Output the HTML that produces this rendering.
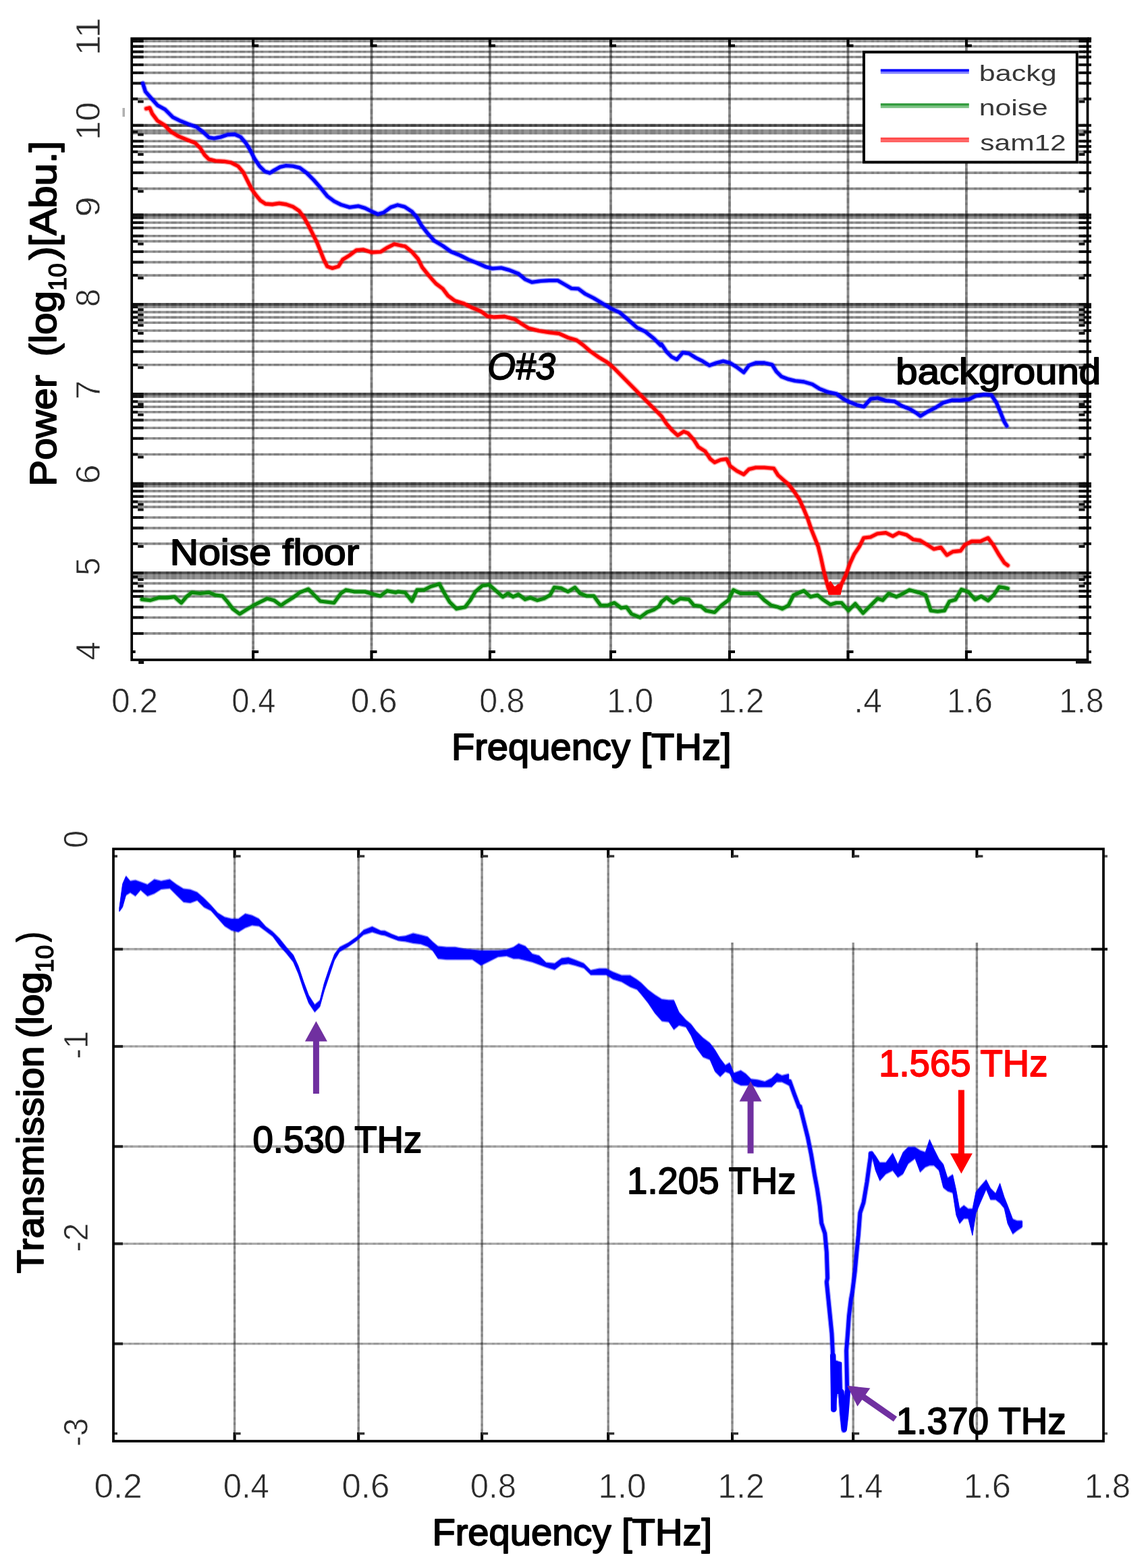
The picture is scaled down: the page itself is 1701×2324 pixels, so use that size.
<!DOCTYPE html>
<html lang="en"><head><meta charset="utf-8"><title>THz power spectrum and transmission</title>
<style>html,body{margin:0;padding:0;background:#fff}body{width:1701px;height:2324px;overflow:hidden}svg{display:block}text{font-family:"Liberation Sans",Arial,Helvetica,sans-serif}</style>
</head><body>
<svg width="1701" height="2324" viewBox="0 0 1701 2324">
<defs><filter id="soft" x="0" y="0" width="1701" height="2324" filterUnits="userSpaceOnUse" color-interpolation-filters="sRGB"><feGaussianBlur stdDeviation="0.55"/></filter></defs>
<rect width="1701" height="2324" fill="#fff"/>
<g filter="url(#soft)">
<rect width="1701" height="2324" fill="#fff"/>
<g id="top-chart">
<g id="top-grid">
<line x1="195.2" y1="61" x2="1611.5" y2="61" stroke="#000" stroke-opacity="0.42" stroke-width="3.6"/>
<line x1="195.2" y1="61" x2="1611.5" y2="61" stroke="#000" stroke-opacity="0.13" stroke-width="3.6" stroke-dasharray="3.9 3.9 7.8 3.9 3.9 7.8 3.9 3.9 3.9 7.8" stroke-dashoffset="0"/>
<line x1="195.2" y1="68.8" x2="1611.5" y2="68.8" stroke="#000" stroke-opacity="0.42" stroke-width="3.6"/>
<line x1="195.2" y1="68.8" x2="1611.5" y2="68.8" stroke="#000" stroke-opacity="0.13" stroke-width="3.6" stroke-dasharray="3.9 3.9 7.8 3.9 3.9 7.8 3.9 3.9 3.9 7.8" stroke-dashoffset="0"/>
<line x1="195.2" y1="76.7" x2="1611.5" y2="76.7" stroke="#000" stroke-opacity="0.42" stroke-width="3.6"/>
<line x1="195.2" y1="76.7" x2="1611.5" y2="76.7" stroke="#000" stroke-opacity="0.13" stroke-width="3.6" stroke-dasharray="3.9 3.9 7.8 3.9 3.9 7.8 3.9 3.9 3.9 7.8" stroke-dashoffset="0"/>
<line x1="195.2" y1="84.5" x2="1611.5" y2="84.5" stroke="#000" stroke-opacity="0.42" stroke-width="3.6"/>
<line x1="195.2" y1="84.5" x2="1611.5" y2="84.5" stroke="#000" stroke-opacity="0.13" stroke-width="3.6" stroke-dasharray="3.9 3.9 7.8 3.9 3.9 7.8 3.9 3.9 3.9 7.8" stroke-dashoffset="0"/>
<line x1="195.2" y1="96.1" x2="1611.5" y2="96.1" stroke="#000" stroke-opacity="0.42" stroke-width="3.6"/>
<line x1="195.2" y1="96.1" x2="1611.5" y2="96.1" stroke="#000" stroke-opacity="0.13" stroke-width="3.6" stroke-dasharray="3.9 3.9 7.8 3.9 3.9 7.8 3.9 3.9 3.9 7.8" stroke-dashoffset="0"/>
<line x1="195.2" y1="107.9" x2="1611.5" y2="107.9" stroke="#000" stroke-opacity="0.42" stroke-width="3.6"/>
<line x1="195.2" y1="107.9" x2="1611.5" y2="107.9" stroke="#000" stroke-opacity="0.13" stroke-width="3.6" stroke-dasharray="3.9 3.9 7.8 3.9 3.9 7.8 3.9 3.9 3.9 7.8" stroke-dashoffset="0"/>
<line x1="195.2" y1="123.4" x2="1611.5" y2="123.4" stroke="#000" stroke-opacity="0.42" stroke-width="3.6"/>
<line x1="195.2" y1="123.4" x2="1611.5" y2="123.4" stroke="#000" stroke-opacity="0.13" stroke-width="3.6" stroke-dasharray="3.9 3.9 7.8 3.9 3.9 7.8 3.9 3.9 3.9 7.8" stroke-dashoffset="0"/>
<line x1="195.2" y1="146.6" x2="1611.5" y2="146.6" stroke="#000" stroke-opacity="0.42" stroke-width="3.6"/>
<line x1="195.2" y1="146.6" x2="1611.5" y2="146.6" stroke="#000" stroke-opacity="0.13" stroke-width="3.6" stroke-dasharray="3.9 3.9 7.8 3.9 3.9 7.8 3.9 3.9 3.9 7.8" stroke-dashoffset="0"/>
<line x1="195.2" y1="185.8" x2="1611.5" y2="185.8" stroke="#000" stroke-opacity="0.66" stroke-width="4.2"/>
<line x1="195.2" y1="185.8" x2="1611.5" y2="185.8" stroke="#000" stroke-opacity="0.24" stroke-width="4.2" stroke-dasharray="3.9 3.9 7.8 3.9 3.9 7.8 3.9 3.9 3.9 7.8" stroke-dashoffset="0"/>
<line x1="195.2" y1="195.5" x2="1611.5" y2="195.5" stroke="#000" stroke-opacity="0.42" stroke-width="7.6"/>
<line x1="195.2" y1="195.5" x2="1611.5" y2="195.5" stroke="#000" stroke-opacity="0.13" stroke-width="7.6" stroke-dasharray="3.9 3.9 7.8 3.9 3.9 7.8 3.9 3.9 3.9 7.8" stroke-dashoffset="0"/>
<line x1="195.2" y1="209.3" x2="1611.5" y2="209.3" stroke="#000" stroke-opacity="0.42" stroke-width="3.6"/>
<line x1="195.2" y1="209.3" x2="1611.5" y2="209.3" stroke="#000" stroke-opacity="0.13" stroke-width="3.6" stroke-dasharray="3.9 3.9 7.8 3.9 3.9 7.8 3.9 3.9 3.9 7.8" stroke-dashoffset="0"/>
<line x1="195.2" y1="217.1" x2="1611.5" y2="217.1" stroke="#000" stroke-opacity="0.42" stroke-width="3.6"/>
<line x1="195.2" y1="217.1" x2="1611.5" y2="217.1" stroke="#000" stroke-opacity="0.13" stroke-width="3.6" stroke-dasharray="3.9 3.9 7.8 3.9 3.9 7.8 3.9 3.9 3.9 7.8" stroke-dashoffset="0"/>
<line x1="195.2" y1="224.9" x2="1611.5" y2="224.9" stroke="#000" stroke-opacity="0.42" stroke-width="3.6"/>
<line x1="195.2" y1="224.9" x2="1611.5" y2="224.9" stroke="#000" stroke-opacity="0.13" stroke-width="3.6" stroke-dasharray="3.9 3.9 7.8 3.9 3.9 7.8 3.9 3.9 3.9 7.8" stroke-dashoffset="0"/>
<line x1="195.2" y1="240.5" x2="1611.5" y2="240.5" stroke="#000" stroke-opacity="0.42" stroke-width="3.6"/>
<line x1="195.2" y1="240.5" x2="1611.5" y2="240.5" stroke="#000" stroke-opacity="0.13" stroke-width="3.6" stroke-dasharray="3.9 3.9 7.8 3.9 3.9 7.8 3.9 3.9 3.9 7.8" stroke-dashoffset="0"/>
<line x1="195.2" y1="256.1" x2="1611.5" y2="256.1" stroke="#000" stroke-opacity="0.42" stroke-width="3.6"/>
<line x1="195.2" y1="256.1" x2="1611.5" y2="256.1" stroke="#000" stroke-opacity="0.13" stroke-width="3.6" stroke-dasharray="3.9 3.9 7.8 3.9 3.9 7.8 3.9 3.9 3.9 7.8" stroke-dashoffset="0"/>
<line x1="195.2" y1="279.6" x2="1611.5" y2="279.6" stroke="#000" stroke-opacity="0.42" stroke-width="3.6"/>
<line x1="195.2" y1="279.6" x2="1611.5" y2="279.6" stroke="#000" stroke-opacity="0.13" stroke-width="3.6" stroke-dasharray="3.9 3.9 7.8 3.9 3.9 7.8 3.9 3.9 3.9 7.8" stroke-dashoffset="0"/>
<line x1="195.2" y1="318.6" x2="1611.5" y2="318.6" stroke="#000" stroke-opacity="0.66" stroke-width="4.2"/>
<line x1="195.2" y1="318.6" x2="1611.5" y2="318.6" stroke="#000" stroke-opacity="0.24" stroke-width="4.2" stroke-dasharray="3.9 3.9 7.8 3.9 3.9 7.8 3.9 3.9 3.9 7.8" stroke-dashoffset="0"/>
<line x1="195.2" y1="322.6" x2="1611.5" y2="322.6" stroke="#000" stroke-opacity="0.42" stroke-width="3.6"/>
<line x1="195.2" y1="322.6" x2="1611.5" y2="322.6" stroke="#000" stroke-opacity="0.13" stroke-width="3.6" stroke-dasharray="3.9 3.9 7.8 3.9 3.9 7.8 3.9 3.9 3.9 7.8" stroke-dashoffset="0"/>
<line x1="195.2" y1="330" x2="1611.5" y2="330" stroke="#000" stroke-opacity="0.42" stroke-width="3.6"/>
<line x1="195.2" y1="330" x2="1611.5" y2="330" stroke="#000" stroke-opacity="0.13" stroke-width="3.6" stroke-dasharray="3.9 3.9 7.8 3.9 3.9 7.8 3.9 3.9 3.9 7.8" stroke-dashoffset="0"/>
<line x1="195.2" y1="337.7" x2="1611.5" y2="337.7" stroke="#000" stroke-opacity="0.42" stroke-width="3.6"/>
<line x1="195.2" y1="337.7" x2="1611.5" y2="337.7" stroke="#000" stroke-opacity="0.13" stroke-width="3.6" stroke-dasharray="3.9 3.9 7.8 3.9 3.9 7.8 3.9 3.9 3.9 7.8" stroke-dashoffset="0"/>
<line x1="195.2" y1="349.7" x2="1611.5" y2="349.7" stroke="#000" stroke-opacity="0.42" stroke-width="3.6"/>
<line x1="195.2" y1="349.7" x2="1611.5" y2="349.7" stroke="#000" stroke-opacity="0.13" stroke-width="3.6" stroke-dasharray="3.9 3.9 7.8 3.9 3.9 7.8 3.9 3.9 3.9 7.8" stroke-dashoffset="0"/>
<line x1="195.2" y1="357.6" x2="1611.5" y2="357.6" stroke="#000" stroke-opacity="0.42" stroke-width="3.6"/>
<line x1="195.2" y1="357.6" x2="1611.5" y2="357.6" stroke="#000" stroke-opacity="0.13" stroke-width="3.6" stroke-dasharray="3.9 3.9 7.8 3.9 3.9 7.8 3.9 3.9 3.9 7.8" stroke-dashoffset="0"/>
<line x1="195.2" y1="373" x2="1611.5" y2="373" stroke="#000" stroke-opacity="0.42" stroke-width="3.6"/>
<line x1="195.2" y1="373" x2="1611.5" y2="373" stroke="#000" stroke-opacity="0.13" stroke-width="3.6" stroke-dasharray="3.9 3.9 7.8 3.9 3.9 7.8 3.9 3.9 3.9 7.8" stroke-dashoffset="0"/>
<line x1="195.2" y1="388.6" x2="1611.5" y2="388.6" stroke="#000" stroke-opacity="0.42" stroke-width="3.6"/>
<line x1="195.2" y1="388.6" x2="1611.5" y2="388.6" stroke="#000" stroke-opacity="0.13" stroke-width="3.6" stroke-dasharray="3.9 3.9 7.8 3.9 3.9 7.8 3.9 3.9 3.9 7.8" stroke-dashoffset="0"/>
<line x1="195.2" y1="408.1" x2="1611.5" y2="408.1" stroke="#000" stroke-opacity="0.42" stroke-width="3.6"/>
<line x1="195.2" y1="408.1" x2="1611.5" y2="408.1" stroke="#000" stroke-opacity="0.13" stroke-width="3.6" stroke-dasharray="3.9 3.9 7.8 3.9 3.9 7.8 3.9 3.9 3.9 7.8" stroke-dashoffset="0"/>
<line x1="195.2" y1="451.2" x2="1611.5" y2="451.2" stroke="#000" stroke-opacity="0.66" stroke-width="4.2"/>
<line x1="195.2" y1="451.2" x2="1611.5" y2="451.2" stroke="#000" stroke-opacity="0.24" stroke-width="4.2" stroke-dasharray="3.9 3.9 7.8 3.9 3.9 7.8 3.9 3.9 3.9 7.8" stroke-dashoffset="0"/>
<line x1="195.2" y1="455" x2="1611.5" y2="455" stroke="#000" stroke-opacity="0.42" stroke-width="3.6"/>
<line x1="195.2" y1="455" x2="1611.5" y2="455" stroke="#000" stroke-opacity="0.13" stroke-width="3.6" stroke-dasharray="3.9 3.9 7.8 3.9 3.9 7.8 3.9 3.9 3.9 7.8" stroke-dashoffset="0"/>
<line x1="195.2" y1="462.6" x2="1611.5" y2="462.6" stroke="#000" stroke-opacity="0.42" stroke-width="3.6"/>
<line x1="195.2" y1="462.6" x2="1611.5" y2="462.6" stroke="#000" stroke-opacity="0.13" stroke-width="3.6" stroke-dasharray="3.9 3.9 7.8 3.9 3.9 7.8 3.9 3.9 3.9 7.8" stroke-dashoffset="0"/>
<line x1="195.2" y1="470.4" x2="1611.5" y2="470.4" stroke="#000" stroke-opacity="0.42" stroke-width="3.6"/>
<line x1="195.2" y1="470.4" x2="1611.5" y2="470.4" stroke="#000" stroke-opacity="0.13" stroke-width="3.6" stroke-dasharray="3.9 3.9 7.8 3.9 3.9 7.8 3.9 3.9 3.9 7.8" stroke-dashoffset="0"/>
<line x1="195.2" y1="478.2" x2="1611.5" y2="478.2" stroke="#000" stroke-opacity="0.42" stroke-width="3.6"/>
<line x1="195.2" y1="478.2" x2="1611.5" y2="478.2" stroke="#000" stroke-opacity="0.13" stroke-width="3.6" stroke-dasharray="3.9 3.9 7.8 3.9 3.9 7.8 3.9 3.9 3.9 7.8" stroke-dashoffset="0"/>
<line x1="195.2" y1="490" x2="1611.5" y2="490" stroke="#000" stroke-opacity="0.42" stroke-width="3.6"/>
<line x1="195.2" y1="490" x2="1611.5" y2="490" stroke="#000" stroke-opacity="0.13" stroke-width="3.6" stroke-dasharray="3.9 3.9 7.8 3.9 3.9 7.8 3.9 3.9 3.9 7.8" stroke-dashoffset="0"/>
<line x1="195.2" y1="505.6" x2="1611.5" y2="505.6" stroke="#000" stroke-opacity="0.42" stroke-width="3.6"/>
<line x1="195.2" y1="505.6" x2="1611.5" y2="505.6" stroke="#000" stroke-opacity="0.13" stroke-width="3.6" stroke-dasharray="3.9 3.9 7.8 3.9 3.9 7.8 3.9 3.9 3.9 7.8" stroke-dashoffset="0"/>
<line x1="195.2" y1="521.2" x2="1611.5" y2="521.2" stroke="#000" stroke-opacity="0.42" stroke-width="3.6"/>
<line x1="195.2" y1="521.2" x2="1611.5" y2="521.2" stroke="#000" stroke-opacity="0.13" stroke-width="3.6" stroke-dasharray="3.9 3.9 7.8 3.9 3.9 7.8 3.9 3.9 3.9 7.8" stroke-dashoffset="0"/>
<line x1="195.2" y1="540.8" x2="1611.5" y2="540.8" stroke="#000" stroke-opacity="0.42" stroke-width="3.6"/>
<line x1="195.2" y1="540.8" x2="1611.5" y2="540.8" stroke="#000" stroke-opacity="0.13" stroke-width="3.6" stroke-dasharray="3.9 3.9 7.8 3.9 3.9 7.8 3.9 3.9 3.9 7.8" stroke-dashoffset="0"/>
<line x1="195.2" y1="584" x2="1611.5" y2="584" stroke="#000" stroke-opacity="0.66" stroke-width="4.2"/>
<line x1="195.2" y1="584" x2="1611.5" y2="584" stroke="#000" stroke-opacity="0.24" stroke-width="4.2" stroke-dasharray="3.9 3.9 7.8 3.9 3.9 7.8 3.9 3.9 3.9 7.8" stroke-dashoffset="0"/>
<line x1="195.2" y1="587.8" x2="1611.5" y2="587.8" stroke="#000" stroke-opacity="0.42" stroke-width="3.6"/>
<line x1="195.2" y1="587.8" x2="1611.5" y2="587.8" stroke="#000" stroke-opacity="0.13" stroke-width="3.6" stroke-dasharray="3.9 3.9 7.8 3.9 3.9 7.8 3.9 3.9 3.9 7.8" stroke-dashoffset="0"/>
<line x1="195.2" y1="595.2" x2="1611.5" y2="595.2" stroke="#000" stroke-opacity="0.42" stroke-width="3.6"/>
<line x1="195.2" y1="595.2" x2="1611.5" y2="595.2" stroke="#000" stroke-opacity="0.13" stroke-width="3.6" stroke-dasharray="3.9 3.9 7.8 3.9 3.9 7.8 3.9 3.9 3.9 7.8" stroke-dashoffset="0"/>
<line x1="195.2" y1="603" x2="1611.5" y2="603" stroke="#000" stroke-opacity="0.42" stroke-width="3.6"/>
<line x1="195.2" y1="603" x2="1611.5" y2="603" stroke="#000" stroke-opacity="0.13" stroke-width="3.6" stroke-dasharray="3.9 3.9 7.8 3.9 3.9 7.8 3.9 3.9 3.9 7.8" stroke-dashoffset="0"/>
<line x1="195.2" y1="610.8" x2="1611.5" y2="610.8" stroke="#000" stroke-opacity="0.42" stroke-width="3.6"/>
<line x1="195.2" y1="610.8" x2="1611.5" y2="610.8" stroke="#000" stroke-opacity="0.13" stroke-width="3.6" stroke-dasharray="3.9 3.9 7.8 3.9 3.9 7.8 3.9 3.9 3.9 7.8" stroke-dashoffset="0"/>
<line x1="195.2" y1="622.6" x2="1611.5" y2="622.6" stroke="#000" stroke-opacity="0.42" stroke-width="3.6"/>
<line x1="195.2" y1="622.6" x2="1611.5" y2="622.6" stroke="#000" stroke-opacity="0.13" stroke-width="3.6" stroke-dasharray="3.9 3.9 7.8 3.9 3.9 7.8 3.9 3.9 3.9 7.8" stroke-dashoffset="0"/>
<line x1="195.2" y1="634.3" x2="1611.5" y2="634.3" stroke="#000" stroke-opacity="0.42" stroke-width="3.6"/>
<line x1="195.2" y1="634.3" x2="1611.5" y2="634.3" stroke="#000" stroke-opacity="0.13" stroke-width="3.6" stroke-dasharray="3.9 3.9 7.8 3.9 3.9 7.8 3.9 3.9 3.9 7.8" stroke-dashoffset="0"/>
<line x1="195.2" y1="649.8" x2="1611.5" y2="649.8" stroke="#000" stroke-opacity="0.42" stroke-width="3.6"/>
<line x1="195.2" y1="649.8" x2="1611.5" y2="649.8" stroke="#000" stroke-opacity="0.13" stroke-width="3.6" stroke-dasharray="3.9 3.9 7.8 3.9 3.9 7.8 3.9 3.9 3.9 7.8" stroke-dashoffset="0"/>
<line x1="195.2" y1="673.5" x2="1611.5" y2="673.5" stroke="#000" stroke-opacity="0.42" stroke-width="3.6"/>
<line x1="195.2" y1="673.5" x2="1611.5" y2="673.5" stroke="#000" stroke-opacity="0.13" stroke-width="3.6" stroke-dasharray="3.9 3.9 7.8 3.9 3.9 7.8 3.9 3.9 3.9 7.8" stroke-dashoffset="0"/>
<line x1="195.2" y1="716.8" x2="1611.5" y2="716.8" stroke="#000" stroke-opacity="0.66" stroke-width="4.2"/>
<line x1="195.2" y1="716.8" x2="1611.5" y2="716.8" stroke="#000" stroke-opacity="0.24" stroke-width="4.2" stroke-dasharray="3.9 3.9 7.8 3.9 3.9 7.8 3.9 3.9 3.9 7.8" stroke-dashoffset="0"/>
<line x1="195.2" y1="720.6" x2="1611.5" y2="720.6" stroke="#000" stroke-opacity="0.42" stroke-width="3.6"/>
<line x1="195.2" y1="720.6" x2="1611.5" y2="720.6" stroke="#000" stroke-opacity="0.13" stroke-width="3.6" stroke-dasharray="3.9 3.9 7.8 3.9 3.9 7.8 3.9 3.9 3.9 7.8" stroke-dashoffset="0"/>
<line x1="195.2" y1="727.9" x2="1611.5" y2="727.9" stroke="#000" stroke-opacity="0.42" stroke-width="3.6"/>
<line x1="195.2" y1="727.9" x2="1611.5" y2="727.9" stroke="#000" stroke-opacity="0.13" stroke-width="3.6" stroke-dasharray="3.9 3.9 7.8 3.9 3.9 7.8 3.9 3.9 3.9 7.8" stroke-dashoffset="0"/>
<line x1="195.2" y1="735.8" x2="1611.5" y2="735.8" stroke="#000" stroke-opacity="0.42" stroke-width="3.6"/>
<line x1="195.2" y1="735.8" x2="1611.5" y2="735.8" stroke="#000" stroke-opacity="0.13" stroke-width="3.6" stroke-dasharray="3.9 3.9 7.8 3.9 3.9 7.8 3.9 3.9 3.9 7.8" stroke-dashoffset="0"/>
<line x1="195.2" y1="743.6" x2="1611.5" y2="743.6" stroke="#000" stroke-opacity="0.42" stroke-width="3.6"/>
<line x1="195.2" y1="743.6" x2="1611.5" y2="743.6" stroke="#000" stroke-opacity="0.13" stroke-width="3.6" stroke-dasharray="3.9 3.9 7.8 3.9 3.9 7.8 3.9 3.9 3.9 7.8" stroke-dashoffset="0"/>
<line x1="195.2" y1="751.4" x2="1611.5" y2="751.4" stroke="#000" stroke-opacity="0.42" stroke-width="3.6"/>
<line x1="195.2" y1="751.4" x2="1611.5" y2="751.4" stroke="#000" stroke-opacity="0.13" stroke-width="3.6" stroke-dasharray="3.9 3.9 7.8 3.9 3.9 7.8 3.9 3.9 3.9 7.8" stroke-dashoffset="0"/>
<line x1="195.2" y1="767" x2="1611.5" y2="767" stroke="#000" stroke-opacity="0.42" stroke-width="3.6"/>
<line x1="195.2" y1="767" x2="1611.5" y2="767" stroke="#000" stroke-opacity="0.13" stroke-width="3.6" stroke-dasharray="3.9 3.9 7.8 3.9 3.9 7.8 3.9 3.9 3.9 7.8" stroke-dashoffset="0"/>
<line x1="195.2" y1="782.6" x2="1611.5" y2="782.6" stroke="#000" stroke-opacity="0.42" stroke-width="3.6"/>
<line x1="195.2" y1="782.6" x2="1611.5" y2="782.6" stroke="#000" stroke-opacity="0.13" stroke-width="3.6" stroke-dasharray="3.9 3.9 7.8 3.9 3.9 7.8 3.9 3.9 3.9 7.8" stroke-dashoffset="0"/>
<line x1="195.2" y1="805.9" x2="1611.5" y2="805.9" stroke="#000" stroke-opacity="0.42" stroke-width="3.6"/>
<line x1="195.2" y1="805.9" x2="1611.5" y2="805.9" stroke="#000" stroke-opacity="0.13" stroke-width="3.6" stroke-dasharray="3.9 3.9 7.8 3.9 3.9 7.8 3.9 3.9 3.9 7.8" stroke-dashoffset="0"/>
<line x1="195.2" y1="849.2" x2="1611.5" y2="849.2" stroke="#000" stroke-opacity="0.66" stroke-width="4.2"/>
<line x1="195.2" y1="849.2" x2="1611.5" y2="849.2" stroke="#000" stroke-opacity="0.24" stroke-width="4.2" stroke-dasharray="3.9 3.9 7.8 3.9 3.9 7.8 3.9 3.9 3.9 7.8" stroke-dashoffset="0"/>
<line x1="195.2" y1="855" x2="1611.5" y2="855" stroke="#000" stroke-opacity="0.42" stroke-width="7.6"/>
<line x1="195.2" y1="855" x2="1611.5" y2="855" stroke="#000" stroke-opacity="0.13" stroke-width="7.6" stroke-dasharray="3.9 3.9 7.8 3.9 3.9 7.8 3.9 3.9 3.9 7.8" stroke-dashoffset="0"/>
<line x1="195.2" y1="864.6" x2="1611.5" y2="864.6" stroke="#000" stroke-opacity="0.42" stroke-width="3.6"/>
<line x1="195.2" y1="864.6" x2="1611.5" y2="864.6" stroke="#000" stroke-opacity="0.13" stroke-width="3.6" stroke-dasharray="3.9 3.9 7.8 3.9 3.9 7.8 3.9 3.9 3.9 7.8" stroke-dashoffset="0"/>
<line x1="195.2" y1="876.2" x2="1611.5" y2="876.2" stroke="#000" stroke-opacity="0.42" stroke-width="3.6"/>
<line x1="195.2" y1="876.2" x2="1611.5" y2="876.2" stroke="#000" stroke-opacity="0.13" stroke-width="3.6" stroke-dasharray="3.9 3.9 7.8 3.9 3.9 7.8 3.9 3.9 3.9 7.8" stroke-dashoffset="0"/>
<line x1="195.2" y1="884" x2="1611.5" y2="884" stroke="#000" stroke-opacity="0.42" stroke-width="3.6"/>
<line x1="195.2" y1="884" x2="1611.5" y2="884" stroke="#000" stroke-opacity="0.13" stroke-width="3.6" stroke-dasharray="3.9 3.9 7.8 3.9 3.9 7.8 3.9 3.9 3.9 7.8" stroke-dashoffset="0"/>
<line x1="195.2" y1="899.7" x2="1611.5" y2="899.7" stroke="#000" stroke-opacity="0.42" stroke-width="3.6"/>
<line x1="195.2" y1="899.7" x2="1611.5" y2="899.7" stroke="#000" stroke-opacity="0.13" stroke-width="3.6" stroke-dasharray="3.9 3.9 7.8 3.9 3.9 7.8 3.9 3.9 3.9 7.8" stroke-dashoffset="0"/>
<line x1="195.2" y1="915.3" x2="1611.5" y2="915.3" stroke="#000" stroke-opacity="0.42" stroke-width="3.6"/>
<line x1="195.2" y1="915.3" x2="1611.5" y2="915.3" stroke="#000" stroke-opacity="0.13" stroke-width="3.6" stroke-dasharray="3.9 3.9 7.8 3.9 3.9 7.8 3.9 3.9 3.9 7.8" stroke-dashoffset="0"/>
<line x1="195.2" y1="938.9" x2="1611.5" y2="938.9" stroke="#000" stroke-opacity="0.42" stroke-width="3.6"/>
<line x1="195.2" y1="938.9" x2="1611.5" y2="938.9" stroke="#000" stroke-opacity="0.13" stroke-width="3.6" stroke-dasharray="3.9 3.9 7.8 3.9 3.9 7.8 3.9 3.9 3.9 7.8" stroke-dashoffset="0"/>
<line x1="375.1" y1="57.2" x2="375.1" y2="978" stroke="#000" stroke-opacity="0.46" stroke-width="3.8"/>
<line x1="375.1" y1="57.2" x2="375.1" y2="978" stroke="#000" stroke-opacity="0.13" stroke-width="3.8" stroke-dasharray="3.9 3.9 7.8 3.9 3.9 7.8 3.9 3.9 3.9 7.8" stroke-dashoffset="0"/>
<line x1="550.5" y1="57.2" x2="550.5" y2="978" stroke="#000" stroke-opacity="0.46" stroke-width="3.8"/>
<line x1="550.5" y1="57.2" x2="550.5" y2="978" stroke="#000" stroke-opacity="0.13" stroke-width="3.8" stroke-dasharray="3.9 3.9 7.8 3.9 3.9 7.8 3.9 3.9 3.9 7.8" stroke-dashoffset="5"/>
<line x1="725.9" y1="57.2" x2="725.9" y2="978" stroke="#000" stroke-opacity="0.46" stroke-width="3.8"/>
<line x1="725.9" y1="57.2" x2="725.9" y2="978" stroke="#000" stroke-opacity="0.13" stroke-width="3.8" stroke-dasharray="3.9 3.9 7.8 3.9 3.9 7.8 3.9 3.9 3.9 7.8" stroke-dashoffset="10"/>
<line x1="905" y1="57.2" x2="905" y2="978" stroke="#000" stroke-opacity="0.46" stroke-width="3.8"/>
<line x1="905" y1="57.2" x2="905" y2="978" stroke="#000" stroke-opacity="0.13" stroke-width="3.8" stroke-dasharray="3.9 3.9 7.8 3.9 3.9 7.8 3.9 3.9 3.9 7.8" stroke-dashoffset="15"/>
<line x1="1081" y1="57.2" x2="1081" y2="978" stroke="#000" stroke-opacity="0.46" stroke-width="3.8"/>
<line x1="1081" y1="57.2" x2="1081" y2="978" stroke="#000" stroke-opacity="0.13" stroke-width="3.8" stroke-dasharray="3.9 3.9 7.8 3.9 3.9 7.8 3.9 3.9 3.9 7.8" stroke-dashoffset="20"/>
<line x1="1256.5" y1="57.2" x2="1256.5" y2="978" stroke="#000" stroke-opacity="0.46" stroke-width="3.8"/>
<line x1="1256.5" y1="57.2" x2="1256.5" y2="978" stroke="#000" stroke-opacity="0.13" stroke-width="3.8" stroke-dasharray="3.9 3.9 7.8 3.9 3.9 7.8 3.9 3.9 3.9 7.8" stroke-dashoffset="25"/>
<line x1="1431.9" y1="57.2" x2="1431.9" y2="978" stroke="#000" stroke-opacity="0.46" stroke-width="3.8"/>
<line x1="1431.9" y1="57.2" x2="1431.9" y2="978" stroke="#000" stroke-opacity="0.13" stroke-width="3.8" stroke-dasharray="3.9 3.9 7.8 3.9 3.9 7.8 3.9 3.9 3.9 7.8" stroke-dashoffset="30"/>
</g>
<g id="top-ticks" fill="#000">
<rect x="195.2" y="59" width="9" height="4" fill="#111"/>
<rect x="204.2" y="59" width="8.5" height="4" fill="#111"/>
<rect x="1598.5" y="59" width="9" height="4" fill="#111"/>
<rect x="1605.5" y="59" width="11.5" height="4" fill="#111"/>
<rect x="195.2" y="66.8" width="9" height="4" fill="#111"/>
<rect x="204.2" y="66.8" width="8.5" height="4" fill="#111"/>
<rect x="1598.5" y="66.8" width="9" height="4" fill="#111"/>
<rect x="1605.5" y="66.8" width="11.5" height="4" fill="#111"/>
<rect x="195.2" y="74.7" width="9" height="4" fill="#111"/>
<rect x="204.2" y="74.7" width="8.5" height="4" fill="#111"/>
<rect x="1598.5" y="74.7" width="9" height="4" fill="#111"/>
<rect x="1605.5" y="74.7" width="11.5" height="4" fill="#111"/>
<rect x="195.2" y="82.5" width="9" height="4" fill="#111"/>
<rect x="204.2" y="82.5" width="8.5" height="4" fill="#111"/>
<rect x="1598.5" y="82.5" width="9" height="4" fill="#111"/>
<rect x="1605.5" y="82.5" width="11.5" height="4" fill="#111"/>
<rect x="195.2" y="94.1" width="9" height="4" fill="#111"/>
<rect x="204.2" y="94.1" width="8.5" height="4" fill="#111"/>
<rect x="1598.5" y="94.1" width="9" height="4" fill="#111"/>
<rect x="1605.5" y="94.1" width="11.5" height="4" fill="#111"/>
<rect x="195.2" y="105.9" width="9" height="4" fill="#111"/>
<rect x="204.2" y="105.9" width="8.5" height="4" fill="#111"/>
<rect x="1598.5" y="105.9" width="9" height="4" fill="#111"/>
<rect x="1605.5" y="105.9" width="11.5" height="4" fill="#111"/>
<rect x="195.2" y="121.4" width="9" height="4" fill="#111"/>
<rect x="204.2" y="121.4" width="8.5" height="4" fill="#111"/>
<rect x="1598.5" y="121.4" width="9" height="4" fill="#111"/>
<rect x="1605.5" y="121.4" width="11.5" height="4" fill="#111"/>
<rect x="195.2" y="144.6" width="9" height="4" fill="#111"/>
<rect x="204.2" y="148.6" width="8.5" height="4" fill="#111"/>
<rect x="1598.5" y="148.6" width="9" height="4" fill="#111"/>
<rect x="1605.5" y="144.6" width="11.5" height="4" fill="#111"/>
<rect x="195.2" y="183.8" width="9" height="4" fill="#111"/>
<rect x="204.2" y="183.8" width="8.5" height="4" fill="#111"/>
<rect x="1598.5" y="183.8" width="9" height="4" fill="#111"/>
<rect x="1605.5" y="183.8" width="11.5" height="4" fill="#111"/>
<rect x="195.2" y="193.5" width="9" height="4" fill="#111"/>
<rect x="204.2" y="197.5" width="8.5" height="4" fill="#111"/>
<rect x="1598.5" y="197.5" width="9" height="4" fill="#111"/>
<rect x="1605.5" y="193.5" width="11.5" height="4" fill="#111"/>
<rect x="195.2" y="207.3" width="9" height="4" fill="#111"/>
<rect x="204.2" y="207.3" width="8.5" height="4" fill="#111"/>
<rect x="1598.5" y="207.3" width="9" height="4" fill="#111"/>
<rect x="1605.5" y="207.3" width="11.5" height="4" fill="#111"/>
<rect x="195.2" y="215.1" width="9" height="4" fill="#111"/>
<rect x="204.2" y="215.1" width="8.5" height="4" fill="#111"/>
<rect x="1598.5" y="215.1" width="9" height="4" fill="#111"/>
<rect x="1605.5" y="215.1" width="11.5" height="4" fill="#111"/>
<rect x="195.2" y="222.9" width="9" height="4" fill="#111"/>
<rect x="204.2" y="226.9" width="8.5" height="4" fill="#111"/>
<rect x="1598.5" y="226.9" width="9" height="4" fill="#111"/>
<rect x="1605.5" y="222.9" width="11.5" height="4" fill="#111"/>
<rect x="195.2" y="238.5" width="9" height="4" fill="#111"/>
<rect x="204.2" y="238.5" width="8.5" height="4" fill="#111"/>
<rect x="1598.5" y="238.5" width="9" height="4" fill="#111"/>
<rect x="1605.5" y="238.5" width="11.5" height="4" fill="#111"/>
<rect x="195.2" y="254.1" width="9" height="4" fill="#111"/>
<rect x="204.2" y="254.1" width="8.5" height="4" fill="#111"/>
<rect x="1598.5" y="254.1" width="9" height="4" fill="#111"/>
<rect x="1605.5" y="254.1" width="11.5" height="4" fill="#111"/>
<rect x="195.2" y="277.6" width="9" height="4" fill="#111"/>
<rect x="204.2" y="281.6" width="8.5" height="4" fill="#111"/>
<rect x="1598.5" y="281.6" width="9" height="4" fill="#111"/>
<rect x="1605.5" y="277.6" width="11.5" height="4" fill="#111"/>
<rect x="195.2" y="316.6" width="9" height="4" fill="#111"/>
<rect x="204.2" y="316.6" width="8.5" height="4" fill="#111"/>
<rect x="1598.5" y="316.6" width="9" height="4" fill="#111"/>
<rect x="1605.5" y="316.6" width="11.5" height="4" fill="#111"/>
<rect x="195.2" y="320.6" width="9" height="4" fill="#111"/>
<rect x="204.2" y="320.6" width="8.5" height="4" fill="#111"/>
<rect x="1598.5" y="320.6" width="9" height="4" fill="#111"/>
<rect x="1605.5" y="320.6" width="11.5" height="4" fill="#111"/>
<rect x="195.2" y="328" width="9" height="4" fill="#111"/>
<rect x="204.2" y="328" width="8.5" height="4" fill="#111"/>
<rect x="1598.5" y="328" width="9" height="4" fill="#111"/>
<rect x="1605.5" y="328" width="11.5" height="4" fill="#111"/>
<rect x="195.2" y="335.7" width="9" height="4" fill="#111"/>
<rect x="204.2" y="335.7" width="8.5" height="4" fill="#111"/>
<rect x="1598.5" y="335.7" width="9" height="4" fill="#111"/>
<rect x="1605.5" y="335.7" width="11.5" height="4" fill="#111"/>
<rect x="195.2" y="347.7" width="9" height="4" fill="#111"/>
<rect x="204.2" y="347.7" width="8.5" height="4" fill="#111"/>
<rect x="1598.5" y="347.7" width="9" height="4" fill="#111"/>
<rect x="1605.5" y="347.7" width="11.5" height="4" fill="#111"/>
<rect x="195.2" y="355.6" width="9" height="4" fill="#111"/>
<rect x="204.2" y="359.6" width="8.5" height="4" fill="#111"/>
<rect x="1598.5" y="359.6" width="9" height="4" fill="#111"/>
<rect x="1605.5" y="355.6" width="11.5" height="4" fill="#111"/>
<rect x="195.2" y="371" width="9" height="4" fill="#111"/>
<rect x="204.2" y="371" width="8.5" height="4" fill="#111"/>
<rect x="1598.5" y="371" width="9" height="4" fill="#111"/>
<rect x="1605.5" y="371" width="11.5" height="4" fill="#111"/>
<rect x="195.2" y="386.6" width="9" height="4" fill="#111"/>
<rect x="204.2" y="386.6" width="8.5" height="4" fill="#111"/>
<rect x="1598.5" y="386.6" width="9" height="4" fill="#111"/>
<rect x="1605.5" y="386.6" width="11.5" height="4" fill="#111"/>
<rect x="195.2" y="406.1" width="9" height="4" fill="#111"/>
<rect x="204.2" y="410.1" width="8.5" height="4" fill="#111"/>
<rect x="1598.5" y="410.1" width="9" height="4" fill="#111"/>
<rect x="1605.5" y="406.1" width="11.5" height="4" fill="#111"/>
<rect x="195.2" y="449.2" width="9" height="4" fill="#111"/>
<rect x="204.2" y="449.2" width="8.5" height="4" fill="#111"/>
<rect x="1598.5" y="449.2" width="9" height="4" fill="#111"/>
<rect x="1605.5" y="449.2" width="11.5" height="4" fill="#111"/>
<rect x="195.2" y="453" width="9" height="4" fill="#111"/>
<rect x="204.2" y="457" width="8.5" height="4" fill="#111"/>
<rect x="1598.5" y="457" width="9" height="4" fill="#111"/>
<rect x="1605.5" y="453" width="11.5" height="4" fill="#111"/>
<rect x="195.2" y="460.6" width="9" height="4" fill="#111"/>
<rect x="204.2" y="464.6" width="8.5" height="4" fill="#111"/>
<rect x="1598.5" y="464.6" width="9" height="4" fill="#111"/>
<rect x="1605.5" y="460.6" width="11.5" height="4" fill="#111"/>
<rect x="195.2" y="468.4" width="9" height="4" fill="#111"/>
<rect x="204.2" y="472.4" width="8.5" height="4" fill="#111"/>
<rect x="1598.5" y="472.4" width="9" height="4" fill="#111"/>
<rect x="1605.5" y="468.4" width="11.5" height="4" fill="#111"/>
<rect x="195.2" y="476.2" width="9" height="4" fill="#111"/>
<rect x="204.2" y="480.2" width="8.5" height="4" fill="#111"/>
<rect x="1598.5" y="480.2" width="9" height="4" fill="#111"/>
<rect x="1605.5" y="476.2" width="11.5" height="4" fill="#111"/>
<rect x="195.2" y="488" width="9" height="4" fill="#111"/>
<rect x="204.2" y="492" width="8.5" height="4" fill="#111"/>
<rect x="1598.5" y="492" width="9" height="4" fill="#111"/>
<rect x="1605.5" y="488" width="11.5" height="4" fill="#111"/>
<rect x="195.2" y="503.6" width="9" height="4" fill="#111"/>
<rect x="204.2" y="503.6" width="8.5" height="4" fill="#111"/>
<rect x="1598.5" y="503.6" width="9" height="4" fill="#111"/>
<rect x="1605.5" y="503.6" width="11.5" height="4" fill="#111"/>
<rect x="195.2" y="519.2" width="9" height="4" fill="#111"/>
<rect x="204.2" y="519.2" width="8.5" height="4" fill="#111"/>
<rect x="1598.5" y="519.2" width="9" height="4" fill="#111"/>
<rect x="1605.5" y="519.2" width="11.5" height="4" fill="#111"/>
<rect x="195.2" y="538.8" width="9" height="4" fill="#111"/>
<rect x="204.2" y="542.8" width="8.5" height="4" fill="#111"/>
<rect x="1598.5" y="542.8" width="9" height="4" fill="#111"/>
<rect x="1605.5" y="538.8" width="11.5" height="4" fill="#111"/>
<rect x="195.2" y="582" width="9" height="4" fill="#111"/>
<rect x="204.2" y="582" width="8.5" height="4" fill="#111"/>
<rect x="1598.5" y="582" width="9" height="4" fill="#111"/>
<rect x="1605.5" y="582" width="11.5" height="4" fill="#111"/>
<rect x="195.2" y="585.8" width="9" height="4" fill="#111"/>
<rect x="204.2" y="585.8" width="8.5" height="4" fill="#111"/>
<rect x="1598.5" y="585.8" width="9" height="4" fill="#111"/>
<rect x="1605.5" y="585.8" width="11.5" height="4" fill="#111"/>
<rect x="195.2" y="593.2" width="9" height="4" fill="#111"/>
<rect x="204.2" y="597.2" width="8.5" height="4" fill="#111"/>
<rect x="1598.5" y="597.2" width="9" height="4" fill="#111"/>
<rect x="1605.5" y="593.2" width="11.5" height="4" fill="#111"/>
<rect x="195.2" y="601" width="9" height="4" fill="#111"/>
<rect x="204.2" y="601" width="8.5" height="4" fill="#111"/>
<rect x="1598.5" y="601" width="9" height="4" fill="#111"/>
<rect x="1605.5" y="601" width="11.5" height="4" fill="#111"/>
<rect x="195.2" y="608.8" width="9" height="4" fill="#111"/>
<rect x="204.2" y="612.8" width="8.5" height="4" fill="#111"/>
<rect x="1598.5" y="612.8" width="9" height="4" fill="#111"/>
<rect x="1605.5" y="608.8" width="11.5" height="4" fill="#111"/>
<rect x="195.2" y="620.6" width="9" height="4" fill="#111"/>
<rect x="204.2" y="620.6" width="8.5" height="4" fill="#111"/>
<rect x="1598.5" y="620.6" width="9" height="4" fill="#111"/>
<rect x="1605.5" y="620.6" width="11.5" height="4" fill="#111"/>
<rect x="195.2" y="632.3" width="9" height="4" fill="#111"/>
<rect x="204.2" y="632.3" width="8.5" height="4" fill="#111"/>
<rect x="1598.5" y="632.3" width="9" height="4" fill="#111"/>
<rect x="1605.5" y="632.3" width="11.5" height="4" fill="#111"/>
<rect x="195.2" y="647.8" width="9" height="4" fill="#111"/>
<rect x="204.2" y="647.8" width="8.5" height="4" fill="#111"/>
<rect x="1598.5" y="647.8" width="9" height="4" fill="#111"/>
<rect x="1605.5" y="647.8" width="11.5" height="4" fill="#111"/>
<rect x="195.2" y="671.5" width="9" height="4" fill="#111"/>
<rect x="204.2" y="675.5" width="8.5" height="4" fill="#111"/>
<rect x="1598.5" y="675.5" width="9" height="4" fill="#111"/>
<rect x="1605.5" y="671.5" width="11.5" height="4" fill="#111"/>
<rect x="195.2" y="714.8" width="9" height="4" fill="#111"/>
<rect x="204.2" y="714.8" width="8.5" height="4" fill="#111"/>
<rect x="1598.5" y="714.8" width="9" height="4" fill="#111"/>
<rect x="1605.5" y="714.8" width="11.5" height="4" fill="#111"/>
<rect x="195.2" y="718.6" width="9" height="4" fill="#111"/>
<rect x="204.2" y="718.6" width="8.5" height="4" fill="#111"/>
<rect x="1598.5" y="718.6" width="9" height="4" fill="#111"/>
<rect x="1605.5" y="718.6" width="11.5" height="4" fill="#111"/>
<rect x="195.2" y="725.9" width="9" height="4" fill="#111"/>
<rect x="204.2" y="725.9" width="8.5" height="4" fill="#111"/>
<rect x="1598.5" y="725.9" width="9" height="4" fill="#111"/>
<rect x="1605.5" y="725.9" width="11.5" height="4" fill="#111"/>
<rect x="195.2" y="733.8" width="9" height="4" fill="#111"/>
<rect x="204.2" y="733.8" width="8.5" height="4" fill="#111"/>
<rect x="1598.5" y="733.8" width="9" height="4" fill="#111"/>
<rect x="1605.5" y="733.8" width="11.5" height="4" fill="#111"/>
<rect x="195.2" y="741.6" width="9" height="4" fill="#111"/>
<rect x="204.2" y="745.6" width="8.5" height="4" fill="#111"/>
<rect x="1598.5" y="745.6" width="9" height="4" fill="#111"/>
<rect x="1605.5" y="741.6" width="11.5" height="4" fill="#111"/>
<rect x="195.2" y="749.4" width="9" height="4" fill="#111"/>
<rect x="204.2" y="753.4" width="8.5" height="4" fill="#111"/>
<rect x="1598.5" y="753.4" width="9" height="4" fill="#111"/>
<rect x="1605.5" y="749.4" width="11.5" height="4" fill="#111"/>
<rect x="195.2" y="765" width="9" height="4" fill="#111"/>
<rect x="204.2" y="765" width="8.5" height="4" fill="#111"/>
<rect x="1598.5" y="765" width="9" height="4" fill="#111"/>
<rect x="1605.5" y="765" width="11.5" height="4" fill="#111"/>
<rect x="195.2" y="780.6" width="9" height="4" fill="#111"/>
<rect x="204.2" y="780.6" width="8.5" height="4" fill="#111"/>
<rect x="1598.5" y="780.6" width="9" height="4" fill="#111"/>
<rect x="1605.5" y="780.6" width="11.5" height="4" fill="#111"/>
<rect x="195.2" y="803.9" width="9" height="4" fill="#111"/>
<rect x="204.2" y="807.9" width="8.5" height="4" fill="#111"/>
<rect x="1598.5" y="807.9" width="9" height="4" fill="#111"/>
<rect x="1605.5" y="803.9" width="11.5" height="4" fill="#111"/>
<rect x="195.2" y="847.2" width="9" height="4" fill="#111"/>
<rect x="204.2" y="847.2" width="8.5" height="4" fill="#111"/>
<rect x="1598.5" y="847.2" width="9" height="4" fill="#111"/>
<rect x="1605.5" y="847.2" width="11.5" height="4" fill="#111"/>
<rect x="195.2" y="853" width="9" height="4" fill="#111"/>
<rect x="204.2" y="857" width="8.5" height="4" fill="#111"/>
<rect x="1598.5" y="857" width="9" height="4" fill="#111"/>
<rect x="1605.5" y="853" width="11.5" height="4" fill="#111"/>
<rect x="195.2" y="862.6" width="9" height="4" fill="#111"/>
<rect x="204.2" y="866.6" width="8.5" height="4" fill="#111"/>
<rect x="1598.5" y="866.6" width="9" height="4" fill="#111"/>
<rect x="1605.5" y="862.6" width="11.5" height="4" fill="#111"/>
<rect x="195.2" y="874.2" width="9" height="4" fill="#111"/>
<rect x="204.2" y="874.2" width="8.5" height="4" fill="#111"/>
<rect x="1598.5" y="874.2" width="9" height="4" fill="#111"/>
<rect x="1605.5" y="874.2" width="11.5" height="4" fill="#111"/>
<rect x="195.2" y="882" width="9" height="4" fill="#111"/>
<rect x="204.2" y="882" width="8.5" height="4" fill="#111"/>
<rect x="1598.5" y="882" width="9" height="4" fill="#111"/>
<rect x="1605.5" y="882" width="11.5" height="4" fill="#111"/>
<rect x="195.2" y="897.7" width="9" height="4" fill="#111"/>
<rect x="204.2" y="897.7" width="8.5" height="4" fill="#111"/>
<rect x="1598.5" y="897.7" width="9" height="4" fill="#111"/>
<rect x="1605.5" y="897.7" width="11.5" height="4" fill="#111"/>
<rect x="195.2" y="913.3" width="9" height="4" fill="#111"/>
<rect x="204.2" y="913.3" width="8.5" height="4" fill="#111"/>
<rect x="1598.5" y="913.3" width="9" height="4" fill="#111"/>
<rect x="1605.5" y="913.3" width="11.5" height="4" fill="#111"/>
<rect x="195.2" y="936.9" width="9" height="4" fill="#111"/>
<rect x="204.2" y="936.9" width="8.5" height="4" fill="#111"/>
<rect x="1598.5" y="936.9" width="9" height="4" fill="#111"/>
<rect x="1605.5" y="936.9" width="11.5" height="4" fill="#111"/>
<rect x="373.1" y="57.2" width="4" height="12" fill="#000"/>
<rect x="375.1" y="65.7" width="8" height="4" fill="#000"/>
<rect x="373.1" y="964" width="4" height="14" fill="#000"/>
<rect x="375.1" y="964" width="8" height="4" fill="#000"/>
<rect x="548.5" y="57.2" width="4" height="12" fill="#000"/>
<rect x="550.5" y="65.7" width="8" height="4" fill="#000"/>
<rect x="548.5" y="964" width="4" height="14" fill="#000"/>
<rect x="550.5" y="964" width="8" height="4" fill="#000"/>
<rect x="723.9" y="57.2" width="4" height="12" fill="#000"/>
<rect x="725.9" y="65.7" width="8" height="4" fill="#000"/>
<rect x="723.9" y="964" width="4" height="14" fill="#000"/>
<rect x="725.9" y="964" width="8" height="4" fill="#000"/>
<rect x="903" y="57.2" width="4" height="12" fill="#000"/>
<rect x="905" y="65.7" width="8" height="4" fill="#000"/>
<rect x="903" y="964" width="4" height="14" fill="#000"/>
<rect x="905" y="964" width="8" height="4" fill="#000"/>
<rect x="1079" y="57.2" width="4" height="12" fill="#000"/>
<rect x="1081" y="65.7" width="8" height="4" fill="#000"/>
<rect x="1079" y="964" width="4" height="14" fill="#000"/>
<rect x="1081" y="964" width="8" height="4" fill="#000"/>
<rect x="1254.5" y="57.2" width="4" height="12" fill="#000"/>
<rect x="1256.5" y="65.7" width="8" height="4" fill="#000"/>
<rect x="1254.5" y="964" width="4" height="14" fill="#000"/>
<rect x="1256.5" y="964" width="8" height="4" fill="#000"/>
<rect x="1429.9" y="57.2" width="4" height="12" fill="#000"/>
<rect x="1431.9" y="65.7" width="8" height="4" fill="#000"/>
<rect x="1429.9" y="964" width="4" height="14" fill="#000"/>
<rect x="1431.9" y="964" width="8" height="4" fill="#000"/>
<rect x="195.2" y="964" width="5.5" height="4" fill="#000"/>
<rect x="205.2" y="979.5" width="8" height="4.5" fill="#111"/>
<rect x="1594" y="979.5" width="23" height="4" fill="#111"/>
<rect x="1611.5" y="964" width="5.5" height="4" fill="#222"/>
<rect x="1611.5" y="55.35" width="5.6" height="3.7" fill="#000"/>
</g>
<polyline points="210.17,888.39 222.88,889.66 235.59,885.85 248.31,885.85 258.47,884.58 268.64,893.47 276.27,884.58 283.9,878.22 296.61,879.49 309.32,878.22 319.49,882.03 329.66,883.31 337.29,892.2 344.92,902.37 355.08,910 365.25,903.64 375.42,897.29 385.59,892.2 395.76,887.12 405.93,889.66 416.1,897.29 423.73,892.2 433.9,885.85 444.07,878.22 456.78,873.14 464.41,880.76 474.58,890.93 484.75,892.2 494.92,893.47 505.08,879.49 512.71,874.41 525.42,876.95 540.68,876.95 553.39,880.76 563.56,883.31 573.73,875.68 586.44,878.22 590,876.95 600.17,878.22 610.34,890.93 617.97,874.41 628.14,874.41 638.31,869.32 651.02,865.51 658.64,879.49 666.27,892.2 676.44,902.37 689.15,899.83 696.78,889.66 704.41,876.95 714.58,868.05 724.75,866.78 734.92,875.68 745.08,884.58 752.71,879.49 760.34,884.58 767.97,880.76 778.14,888.39 785.76,885.85 795.93,889.66 806.1,887.12 815,882.03 821.36,870.59 831.53,871.86 841.69,876.95 851.86,870.59 859.49,879.49 869.66,883.31 879.83,883.31 890,897.29 900.17,897.29 910.34,893.47 920.51,901.1 928.14,899.83 935.76,910 948.47,915.08 958.64,907.46 968.81,903.64 976.44,898.56 980,892.2 987.63,885.85 997.8,893.47 1007.97,887.12 1020.68,888.39 1028.31,897.29 1038.47,898.56 1046.1,904.92 1058.81,907.46 1068.98,897.29 1079.15,889.66 1086.78,874.41 1096.95,879.49 1109.66,879.49 1122.37,879.49 1132.54,889.66 1142.71,897.29 1152.88,899.83 1159.24,902.37 1168.14,897.29 1175.76,882.03 1191.02,875.68 1201.19,884.58 1211.36,882.03 1218.98,888.39 1230.42,896.02 1239.32,893.47 1246.95,893.47 1257.12,904.92 1267.29,894.75 1278.73,908.73 1290.17,897.29 1300.34,887.12 1307.97,889.66 1316.86,879.49 1328.31,884.58 1338.47,879.49 1347.37,874.41 1361.36,878.22 1371.53,882.03 1379.15,904.92 1389.32,906.19 1399.49,904.92 1406.78,891.36 1415.68,888.81 1424.58,873.56 1434.75,877.37 1444.92,888.81 1453.81,883.73 1463.98,890.08 1472.88,881.19 1480.51,869.75 1488.14,871.02 1493.22,872.29" fill="none" stroke="#0a8a0a" stroke-width="8.1" stroke-linejoin="round" stroke-linecap="round" stroke-opacity="0.35"/>
<polyline points="210.17,888.39 222.88,889.66 235.59,885.85 248.31,885.85 258.47,884.58 268.64,893.47 276.27,884.58 283.9,878.22 296.61,879.49 309.32,878.22 319.49,882.03 329.66,883.31 337.29,892.2 344.92,902.37 355.08,910 365.25,903.64 375.42,897.29 385.59,892.2 395.76,887.12 405.93,889.66 416.1,897.29 423.73,892.2 433.9,885.85 444.07,878.22 456.78,873.14 464.41,880.76 474.58,890.93 484.75,892.2 494.92,893.47 505.08,879.49 512.71,874.41 525.42,876.95 540.68,876.95 553.39,880.76 563.56,883.31 573.73,875.68 586.44,878.22 590,876.95 600.17,878.22 610.34,890.93 617.97,874.41 628.14,874.41 638.31,869.32 651.02,865.51 658.64,879.49 666.27,892.2 676.44,902.37 689.15,899.83 696.78,889.66 704.41,876.95 714.58,868.05 724.75,866.78 734.92,875.68 745.08,884.58 752.71,879.49 760.34,884.58 767.97,880.76 778.14,888.39 785.76,885.85 795.93,889.66 806.1,887.12 815,882.03 821.36,870.59 831.53,871.86 841.69,876.95 851.86,870.59 859.49,879.49 869.66,883.31 879.83,883.31 890,897.29 900.17,897.29 910.34,893.47 920.51,901.1 928.14,899.83 935.76,910 948.47,915.08 958.64,907.46 968.81,903.64 976.44,898.56 980,892.2 987.63,885.85 997.8,893.47 1007.97,887.12 1020.68,888.39 1028.31,897.29 1038.47,898.56 1046.1,904.92 1058.81,907.46 1068.98,897.29 1079.15,889.66 1086.78,874.41 1096.95,879.49 1109.66,879.49 1122.37,879.49 1132.54,889.66 1142.71,897.29 1152.88,899.83 1159.24,902.37 1168.14,897.29 1175.76,882.03 1191.02,875.68 1201.19,884.58 1211.36,882.03 1218.98,888.39 1230.42,896.02 1239.32,893.47 1246.95,893.47 1257.12,904.92 1267.29,894.75 1278.73,908.73 1290.17,897.29 1300.34,887.12 1307.97,889.66 1316.86,879.49 1328.31,884.58 1338.47,879.49 1347.37,874.41 1361.36,878.22 1371.53,882.03 1379.15,904.92 1389.32,906.19 1399.49,904.92 1406.78,891.36 1415.68,888.81 1424.58,873.56 1434.75,877.37 1444.92,888.81 1453.81,883.73 1463.98,890.08 1472.88,881.19 1480.51,869.75 1488.14,871.02 1493.22,872.29" fill="none" stroke="#0a8a0a" stroke-width="5.1" stroke-linejoin="round" stroke-linecap="round"/>
<polyline points="211.61,123.39 215.42,135.59 223.05,144.49 233.22,155.93 244.66,162.29 256.1,173.73 266.27,178.81 278.98,183.9 291.69,188.47 301.86,196.61 309.49,203.73 317.12,205 327.29,202.97 337.46,199.66 347.63,199.15 356.53,202.97 364.15,211.86 370.51,222.03 376.86,234.75 384.49,246.19 392.12,253.81 399.75,256.36 406.1,252.54 415,247.46 423.9,245.42 434.07,246.19 444.24,248.73 454.41,256.36 464.58,266.53 474.75,277.97 484.92,290.68 495.08,298.31 505.25,303.39 517.97,307.2 530.68,305.42 540.85,308.47 551.02,313.56 559.92,317.37 568.81,314.83 578.98,307.2 589.15,303.9 599.32,306.44 610.34,313.56 617.97,322.46 624.32,333.9 633.22,345.34 643.39,356.78 656.1,364.41 668.81,373.31 681.53,378.39 694.24,384.75 706.95,389.83 719.66,395.42 729.83,397.97 742.54,396.95 755.25,400.51 767.97,405.59 778.14,413.98 788.31,418.31 801.02,416.53 813.73,415.76 826.44,415.76 836.61,421.61 846.78,427.46 856.95,427.97 867.12,435.59 879.83,441.95 892.54,449.58 905.25,457.2 917.97,463.05 930.68,473.73 943.39,485.17 956.1,491.53 968.81,501.69 978.98,511.86 980,509.92 987.63,521.36 995.25,528.98 1002.88,532.8 1011.78,522.63 1020.68,523.9 1030.85,530.25 1041.02,535.34 1051.19,541.69 1061.36,537.88 1071.53,535.34 1081.69,537.88 1091.86,544.24 1102.03,551.86 1109.66,541.69 1119.83,537.88 1132.54,537.88 1143.98,540.42 1150.34,550.59 1157.97,558.22 1168.14,562.03 1178.31,564.58 1191.02,565.85 1203.73,569.66 1213.9,576.02 1226.61,581.1 1239.32,583.64 1249.49,591.27 1259.66,596.36 1269.83,600.17 1280,602.71 1290.17,591.27 1300.34,590 1313.05,593.81 1325.76,595.08 1335.93,601.44 1348.64,606.53 1358.81,612.88 1363.9,616.69 1374.07,610.34 1386.78,603.98 1397.63,596.95 1410.34,593.14 1423.05,593.14 1435.76,591.86 1445.93,586.78 1458.64,584.75 1468.81,585.51 1476.44,596.95 1482.8,612.2 1487.88,624.92 1491.69,631.27" fill="none" stroke="#0000ff" stroke-width="8.1" stroke-linejoin="round" stroke-linecap="round" stroke-opacity="0.35"/>
<polyline points="211.61,123.39 215.42,135.59 223.05,144.49 233.22,155.93 244.66,162.29 256.1,173.73 266.27,178.81 278.98,183.9 291.69,188.47 301.86,196.61 309.49,203.73 317.12,205 327.29,202.97 337.46,199.66 347.63,199.15 356.53,202.97 364.15,211.86 370.51,222.03 376.86,234.75 384.49,246.19 392.12,253.81 399.75,256.36 406.1,252.54 415,247.46 423.9,245.42 434.07,246.19 444.24,248.73 454.41,256.36 464.58,266.53 474.75,277.97 484.92,290.68 495.08,298.31 505.25,303.39 517.97,307.2 530.68,305.42 540.85,308.47 551.02,313.56 559.92,317.37 568.81,314.83 578.98,307.2 589.15,303.9 599.32,306.44 610.34,313.56 617.97,322.46 624.32,333.9 633.22,345.34 643.39,356.78 656.1,364.41 668.81,373.31 681.53,378.39 694.24,384.75 706.95,389.83 719.66,395.42 729.83,397.97 742.54,396.95 755.25,400.51 767.97,405.59 778.14,413.98 788.31,418.31 801.02,416.53 813.73,415.76 826.44,415.76 836.61,421.61 846.78,427.46 856.95,427.97 867.12,435.59 879.83,441.95 892.54,449.58 905.25,457.2 917.97,463.05 930.68,473.73 943.39,485.17 956.1,491.53 968.81,501.69 978.98,511.86 980,509.92 987.63,521.36 995.25,528.98 1002.88,532.8 1011.78,522.63 1020.68,523.9 1030.85,530.25 1041.02,535.34 1051.19,541.69 1061.36,537.88 1071.53,535.34 1081.69,537.88 1091.86,544.24 1102.03,551.86 1109.66,541.69 1119.83,537.88 1132.54,537.88 1143.98,540.42 1150.34,550.59 1157.97,558.22 1168.14,562.03 1178.31,564.58 1191.02,565.85 1203.73,569.66 1213.9,576.02 1226.61,581.1 1239.32,583.64 1249.49,591.27 1259.66,596.36 1269.83,600.17 1280,602.71 1290.17,591.27 1300.34,590 1313.05,593.81 1325.76,595.08 1335.93,601.44 1348.64,606.53 1358.81,612.88 1363.9,616.69 1374.07,610.34 1386.78,603.98 1397.63,596.95 1410.34,593.14 1423.05,593.14 1435.76,591.86 1445.93,586.78 1458.64,584.75 1468.81,585.51 1476.44,596.95 1482.8,612.2 1487.88,624.92 1491.69,631.27" fill="none" stroke="#0000ff" stroke-width="5.1" stroke-linejoin="round" stroke-linecap="round"/>
<polyline points="216.69,161.02 221.78,159.75 225.59,168.64 233.22,178.81 243.39,185.17 253.56,195.34 263.73,201.69 276.44,206.78 289.15,211.86 296.78,219.49 303.14,229.66 309.49,236.02 319.66,238.56 332.37,239.32 342.54,241.1 352.71,246.19 360.34,255.08 366.69,267.8 373.05,280.51 379.41,289.41 385.76,297.03 393.39,302.12 403.56,302.88 413.73,301.36 423.9,302.88 434.07,306.44 442.97,312.29 450.59,322.46 456.95,333.9 463.31,346.61 469.66,359.32 474.75,372.03 479.83,384.75 484.92,394.92 492.54,397.46 501.44,394.92 507.8,384.75 517.97,378.39 528.14,370.76 538.31,370 551.02,374.07 563.73,373.31 573.9,366.95 584.07,361.86 596.78,364.41 600.17,364.92 610.34,373.31 619.24,383.47 625.59,396.19 635.76,408.9 645.93,420.34 656.1,427.97 663.73,438.14 673.9,445.76 686.61,449.58 699.32,455.93 712.03,461.02 722.2,468.64 732.37,469.92 747.63,469.15 762.88,473.22 773.05,480.08 783.22,486.44 798.47,490.25 813.73,492.8 828.98,494.58 841.69,500.42 854.41,504.24 864.58,511.86 874.75,520.76 887.46,529.66 900.17,537.29 910.34,546.19 980,616.69 987.63,628.14 995.25,637.03 1004.15,645.42 1013.05,639.58 1019.41,642.12 1028.31,652.29 1034.66,662.46 1044.83,668.81 1052.46,680.25 1058.81,685.34 1067.71,681.53 1076.61,680.25 1081.69,690.42 1091.86,698.05 1102.03,703.14 1109.66,695.51 1119.83,692.97 1132.54,692.97 1146.53,694.24 1152.88,704.41 1163.05,713.31 1167.8,717.2 1176.69,728.64 1184.32,740.08 1190.68,754.07 1197.03,769.32 1202.12,784.58 1207.2,797.29 1212.29,810 1216.1,825.25 1219.92,843.05 1223.73,858.31 1227.54,872.29 1231.36,877.37 1236.44,872.29 1241.53,877.37 1246.61,865.93 1252.97,853.22 1259.32,835.42 1265.68,821.44 1273.31,810 1279.66,797.29 1289.83,796.02 1300,790.93 1312.71,789.66 1322.88,794.75 1331.78,789.66 1343.22,792.71 1353.39,799.83 1363.56,801.1 1373.73,807.46 1383.9,813.81 1394.07,811.27 1402.97,822.71 1411.86,817.63 1423.31,816.36 1429.66,807.46 1439.83,802.37 1452.54,802.37 1463.98,797.29 1471.61,807.46 1480.51,822.71 1488.14,834.15 1493.22,837.97" fill="none" stroke="#ff0000" stroke-width="8.1" stroke-linejoin="round" stroke-linecap="round" stroke-opacity="0.35"/>
<polyline points="216.69,161.02 221.78,159.75 225.59,168.64 233.22,178.81 243.39,185.17 253.56,195.34 263.73,201.69 276.44,206.78 289.15,211.86 296.78,219.49 303.14,229.66 309.49,236.02 319.66,238.56 332.37,239.32 342.54,241.1 352.71,246.19 360.34,255.08 366.69,267.8 373.05,280.51 379.41,289.41 385.76,297.03 393.39,302.12 403.56,302.88 413.73,301.36 423.9,302.88 434.07,306.44 442.97,312.29 450.59,322.46 456.95,333.9 463.31,346.61 469.66,359.32 474.75,372.03 479.83,384.75 484.92,394.92 492.54,397.46 501.44,394.92 507.8,384.75 517.97,378.39 528.14,370.76 538.31,370 551.02,374.07 563.73,373.31 573.9,366.95 584.07,361.86 596.78,364.41 600.17,364.92 610.34,373.31 619.24,383.47 625.59,396.19 635.76,408.9 645.93,420.34 656.1,427.97 663.73,438.14 673.9,445.76 686.61,449.58 699.32,455.93 712.03,461.02 722.2,468.64 732.37,469.92 747.63,469.15 762.88,473.22 773.05,480.08 783.22,486.44 798.47,490.25 813.73,492.8 828.98,494.58 841.69,500.42 854.41,504.24 864.58,511.86 874.75,520.76 887.46,529.66 900.17,537.29 910.34,546.19 980,616.69 987.63,628.14 995.25,637.03 1004.15,645.42 1013.05,639.58 1019.41,642.12 1028.31,652.29 1034.66,662.46 1044.83,668.81 1052.46,680.25 1058.81,685.34 1067.71,681.53 1076.61,680.25 1081.69,690.42 1091.86,698.05 1102.03,703.14 1109.66,695.51 1119.83,692.97 1132.54,692.97 1146.53,694.24 1152.88,704.41 1163.05,713.31 1167.8,717.2 1176.69,728.64 1184.32,740.08 1190.68,754.07 1197.03,769.32 1202.12,784.58 1207.2,797.29 1212.29,810 1216.1,825.25 1219.92,843.05 1223.73,858.31 1227.54,872.29 1231.36,877.37 1236.44,872.29 1241.53,877.37 1246.61,865.93 1252.97,853.22 1259.32,835.42 1265.68,821.44 1273.31,810 1279.66,797.29 1289.83,796.02 1300,790.93 1312.71,789.66 1322.88,794.75 1331.78,789.66 1343.22,792.71 1353.39,799.83 1363.56,801.1 1373.73,807.46 1383.9,813.81 1394.07,811.27 1402.97,822.71 1411.86,817.63 1423.31,816.36 1429.66,807.46 1439.83,802.37 1452.54,802.37 1463.98,797.29 1471.61,807.46 1480.51,822.71 1488.14,834.15 1493.22,837.97" fill="none" stroke="#ff0000" stroke-width="5.1" stroke-linejoin="round" stroke-linecap="round"/>
<polygon points="1226.5,868 1230.5,862 1236.5,871 1242,866 1248,868 1245,881 1228,881" fill="#ff0000" stroke="#ff0000" stroke-width="1.5" stroke-linejoin="round"/>
<rect x="1280" y="77.2" width="315.8" height="163.2" fill="#fff" stroke="#000" stroke-width="4"/>
<rect x="1304.8" y="102.4" width="131" height="3.6" fill="#0000ff"/>
<rect x="1304.8" y="106" width="131" height="3.4" fill="#8080ff"/>
<text transform="translate(1450.81 120.3) scale(1.3240 1)" font-size="32.5" font-weight="normal" font-style="normal" fill="#383838">backg</text>
<rect x="1304.8" y="153.2" width="131" height="3.6" fill="#2e9a3a"/>
<rect x="1304.8" y="156.8" width="131" height="3.4" fill="#7cc284"/>
<text transform="translate(1450.72 171.1) scale(1.3143 1)" font-size="32.5" font-weight="normal" font-style="normal" fill="#383838">noise</text>
<rect x="1304.8" y="203.8" width="131" height="3.6" fill="#ff4b4b"/>
<rect x="1304.8" y="207.4" width="131" height="3.4" fill="#ff5c5c"/>
<text transform="translate(1452.33 222.5) scale(1.3065 1)" font-size="32.5" font-weight="normal" font-style="normal" fill="#383838">sam12</text>
<rect x="195.2" y="57.2" width="1416.3" height="920.8" fill="none" stroke="#000" stroke-width="3.7"/>
<text transform="translate(164.94 1055.6) scale(0.9946 1)" font-size="50" font-weight="normal" font-style="normal" fill="#2b2b2b" stroke="#fff" stroke-width="0.7">0.2</text>
<text transform="translate(343.14 1055.6) scale(0.9404 1)" font-size="50" font-weight="normal" font-style="normal" fill="#2b2b2b" stroke="#fff" stroke-width="0.7">0.4</text>
<text transform="translate(519.74 1055.6) scale(0.9908 1)" font-size="50" font-weight="normal" font-style="normal" fill="#2b2b2b" stroke="#fff" stroke-width="0.7">0.6</text>
<text transform="translate(710.18 1055.6) scale(0.9691 1)" font-size="50" font-weight="normal" font-style="normal" fill="#2b2b2b" stroke="#fff" stroke-width="0.7">0.8</text>
<text transform="translate(898.97 1055.6) scale(0.9957 1)" font-size="50" font-weight="normal" font-style="normal" fill="#2b2b2b" stroke="#fff" stroke-width="0.7">1.0</text>
<text transform="translate(1064.01 1055.6) scale(0.9830 1)" font-size="50" font-weight="normal" font-style="normal" fill="#2b2b2b" stroke="#fff" stroke-width="0.7">1.2</text>
<text transform="translate(1265.32 1055.6) scale(0.9958 1)" font-size="50" font-weight="normal" font-style="normal" fill="#2b2b2b" stroke="#fff" stroke-width="0.7">.4</text>
<text transform="translate(1403.03 1055.6) scale(0.9792 1)" font-size="50" font-weight="normal" font-style="normal" fill="#2b2b2b" stroke="#fff" stroke-width="0.7">1.6</text>
<text transform="translate(1569.33 1055.6) scale(0.9522 1)" font-size="50" font-weight="normal" font-style="normal" fill="#2b2b2b" stroke="#fff" stroke-width="0.7">1.8</text>
<text transform="translate(147.5 82.36) rotate(-90) scale(1.0820 1)" font-size="50" font-weight="normal" font-style="normal" fill="#2b2b2b" stroke="#fff" stroke-width="0.7">11</text>
<text transform="translate(147.5 207.71) rotate(-90) scale(1.0165 1)" font-size="50" font-weight="normal" font-style="normal" fill="#2b2b2b" stroke="#fff" stroke-width="0.7">10</text>
<text transform="translate(147.5 321.55) rotate(-90) scale(1.0882 1)" font-size="50" font-weight="normal" font-style="normal" fill="#2b2b2b" stroke="#fff" stroke-width="0.7">9</text>
<text transform="translate(147.5 454.88) rotate(-90) scale(0.9778 1)" font-size="50" font-weight="normal" font-style="normal" fill="#2b2b2b" stroke="#fff" stroke-width="0.7">8</text>
<text transform="translate(147.5 591.91) rotate(-90) scale(1.0055 1)" font-size="50" font-weight="normal" font-style="normal" fill="#2b2b2b" stroke="#fff" stroke-width="0.7">7</text>
<text transform="translate(147.5 717.62) rotate(-90) scale(1.0465 1)" font-size="50" font-weight="normal" font-style="normal" fill="#2b2b2b" stroke="#fff" stroke-width="0.7">6</text>
<text transform="translate(147.5 852.94) rotate(-90) scale(0.9684 1)" font-size="50" font-weight="normal" font-style="normal" fill="#2b2b2b" stroke="#fff" stroke-width="0.7">5</text>
<text transform="translate(147.5 978.83) rotate(-90) scale(1.0020 1)" font-size="50" font-weight="normal" font-style="normal" fill="#2b2b2b" stroke="#fff" stroke-width="0.7">4</text>
<rect x="181.5" y="160" width="3.5" height="13" fill="#b0b0b0"/>
<text transform="translate(722.58 561.6) scale(0.9663 1)" font-size="55" font-weight="normal" font-style="italic" fill="#000" stroke="#000" stroke-width="1.8" stroke-linejoin="round">O#3</text>
<text transform="translate(1327.35 569) scale(1.0970 1)" font-size="53" font-weight="normal" font-style="normal" fill="#000" stroke="#000" stroke-width="1.8" stroke-linejoin="round">background</text>
<text transform="translate(251.8 837.3) scale(1.1075 1)" font-size="53" font-weight="normal" font-style="normal" fill="#000" stroke="#000" stroke-width="1.8" stroke-linejoin="round">Noise floor</text>
<text transform="translate(668.93 1126.2) scale(1.0200 1)" font-size="55" font-weight="normal" font-style="normal" fill="#000" stroke="#000" stroke-width="1.8" stroke-linejoin="round">Frequency [THz]</text>
<text transform="translate(83 720.72) rotate(-90) scale(1.0403 1)" font-size="56" font-weight="normal" font-style="normal" fill="#000" stroke="#000" stroke-width="1.8" stroke-linejoin="round">Power</text>
<text transform="translate(83 528.58) rotate(-90) scale(1.0473 1)" font-size="56" font-weight="normal" font-style="normal" fill="#000" stroke="#000" stroke-width="1.8" stroke-linejoin="round">(log</text>
<text transform="translate(98 431.15) rotate(-90) scale(1.0240 1)" font-size="36" font-weight="normal" font-style="normal" fill="#000" stroke="#000" stroke-width="1.2" stroke-linejoin="round">10</text>
<text transform="translate(83 385.34) rotate(-90) scale(1.0706 1)" font-size="56" font-weight="normal" font-style="normal" fill="#000" stroke="#000" stroke-width="1.8" stroke-linejoin="round">)[Abu.]</text>
</g>
<g id="bottom-chart">
<g id="bot-grid">
<line x1="168" y1="1406.8" x2="1635" y2="1406.8" stroke="#000" stroke-opacity="0.33" stroke-width="3.4"/>
<line x1="168" y1="1406.8" x2="1635" y2="1406.8" stroke="#000" stroke-opacity="0.09" stroke-width="3.4" stroke-dasharray="3.9 3.9 7.8 3.9 3.9 7.8 3.9 3.9 3.9 7.8" stroke-dashoffset="0"/>
<line x1="168" y1="1550.9" x2="1635" y2="1550.9" stroke="#000" stroke-opacity="0.33" stroke-width="3.4"/>
<line x1="168" y1="1550.9" x2="1635" y2="1550.9" stroke="#000" stroke-opacity="0.09" stroke-width="3.4" stroke-dasharray="3.9 3.9 7.8 3.9 3.9 7.8 3.9 3.9 3.9 7.8" stroke-dashoffset="7"/>
<line x1="168" y1="1699.3" x2="1635" y2="1699.3" stroke="#000" stroke-opacity="0.33" stroke-width="3.4"/>
<line x1="168" y1="1699.3" x2="1635" y2="1699.3" stroke="#000" stroke-opacity="0.09" stroke-width="3.4" stroke-dasharray="3.9 3.9 7.8 3.9 3.9 7.8 3.9 3.9 3.9 7.8" stroke-dashoffset="14"/>
<line x1="168" y1="1843.4" x2="1635" y2="1843.4" stroke="#000" stroke-opacity="0.33" stroke-width="3.4"/>
<line x1="168" y1="1843.4" x2="1635" y2="1843.4" stroke="#000" stroke-opacity="0.09" stroke-width="3.4" stroke-dasharray="3.9 3.9 7.8 3.9 3.9 7.8 3.9 3.9 3.9 7.8" stroke-dashoffset="21"/>
<line x1="168" y1="1991.6" x2="1635" y2="1991.6" stroke="#000" stroke-opacity="0.33" stroke-width="3.4"/>
<line x1="168" y1="1991.6" x2="1635" y2="1991.6" stroke="#000" stroke-opacity="0.09" stroke-width="3.4" stroke-dasharray="3.9 3.9 7.8 3.9 3.9 7.8 3.9 3.9 3.9 7.8" stroke-dashoffset="28"/>
<line x1="347.6" y1="1258" x2="347.6" y2="2136" stroke="#000" stroke-opacity="0.42" stroke-width="3.4"/>
<line x1="347.6" y1="1258" x2="347.6" y2="2136" stroke="#000" stroke-opacity="0.12" stroke-width="3.4" stroke-dasharray="3.9 3.9 7.8 3.9 3.9 7.8 3.9 3.9 3.9 7.8" stroke-dashoffset="0"/>
<line x1="531.2" y1="1258" x2="531.2" y2="2136" stroke="#000" stroke-opacity="0.42" stroke-width="3.4"/>
<line x1="531.2" y1="1258" x2="531.2" y2="2136" stroke="#000" stroke-opacity="0.12" stroke-width="3.4" stroke-dasharray="3.9 3.9 7.8 3.9 3.9 7.8 3.9 3.9 3.9 7.8" stroke-dashoffset="5"/>
<line x1="714.1" y1="1258" x2="714.1" y2="2136" stroke="#000" stroke-opacity="0.42" stroke-width="3.4"/>
<line x1="714.1" y1="1258" x2="714.1" y2="2136" stroke="#000" stroke-opacity="0.12" stroke-width="3.4" stroke-dasharray="3.9 3.9 7.8 3.9 3.9 7.8 3.9 3.9 3.9 7.8" stroke-dashoffset="10"/>
<line x1="901.2" y1="1258" x2="901.2" y2="2136" stroke="#000" stroke-opacity="0.42" stroke-width="3.4"/>
<line x1="901.2" y1="1258" x2="901.2" y2="2136" stroke="#000" stroke-opacity="0.12" stroke-width="3.4" stroke-dasharray="3.9 3.9 7.8 3.9 3.9 7.8 3.9 3.9 3.9 7.8" stroke-dashoffset="15"/>
<line x1="1085" y1="1397" x2="1085" y2="2136" stroke="#000" stroke-opacity="0.42" stroke-width="3.4"/>
<line x1="1085" y1="1397" x2="1085" y2="2136" stroke="#000" stroke-opacity="0.12" stroke-width="3.4" stroke-dasharray="3.9 3.9 7.8 3.9 3.9 7.8 3.9 3.9 3.9 7.8" stroke-dashoffset="20"/>
<line x1="1264.2" y1="1397" x2="1264.2" y2="2136" stroke="#000" stroke-opacity="0.42" stroke-width="3.4"/>
<line x1="1264.2" y1="1397" x2="1264.2" y2="2136" stroke="#000" stroke-opacity="0.12" stroke-width="3.4" stroke-dasharray="3.9 3.9 7.8 3.9 3.9 7.8 3.9 3.9 3.9 7.8" stroke-dashoffset="25"/>
<line x1="1447.4" y1="1397" x2="1447.4" y2="2136" stroke="#000" stroke-opacity="0.42" stroke-width="3.4"/>
<line x1="1447.4" y1="1397" x2="1447.4" y2="2136" stroke="#000" stroke-opacity="0.12" stroke-width="3.4" stroke-dasharray="3.9 3.9 7.8 3.9 3.9 7.8 3.9 3.9 3.9 7.8" stroke-dashoffset="30"/>
</g>
<g id="bot-ticks">
<rect x="168" y="1404.8" width="14" height="4" fill="#222"/>
<rect x="1617" y="1404.8" width="24" height="4" fill="#111"/>
<rect x="168" y="1548.9" width="14" height="4" fill="#222"/>
<rect x="1617" y="1548.9" width="24" height="4" fill="#111"/>
<rect x="168" y="1697.3" width="14" height="4" fill="#222"/>
<rect x="1617" y="1697.3" width="24" height="4" fill="#111"/>
<rect x="168" y="1841.4" width="14" height="4" fill="#222"/>
<rect x="1617" y="1841.4" width="24" height="4" fill="#111"/>
<rect x="168" y="1989.6" width="14" height="4" fill="#222"/>
<rect x="1617" y="1989.6" width="24" height="4" fill="#111"/>
<rect x="345.6" y="1258.3" width="4" height="13" fill="#000"/>
<rect x="347.6" y="1267.3" width="9" height="3.5" fill="#333"/>
<rect x="345.6" y="2123" width="4" height="13" fill="#000"/>
<rect x="347.6" y="2123" width="9" height="3.5" fill="#333"/>
<rect x="529.2" y="1258.3" width="4" height="13" fill="#000"/>
<rect x="531.2" y="1267.3" width="9" height="3.5" fill="#333"/>
<rect x="529.2" y="2123" width="4" height="13" fill="#000"/>
<rect x="531.2" y="2123" width="9" height="3.5" fill="#333"/>
<rect x="712.1" y="1258.3" width="4" height="13" fill="#000"/>
<rect x="714.1" y="1267.3" width="9" height="3.5" fill="#333"/>
<rect x="712.1" y="2123" width="4" height="13" fill="#000"/>
<rect x="714.1" y="2123" width="9" height="3.5" fill="#333"/>
<rect x="899.2" y="1258.3" width="4" height="13" fill="#000"/>
<rect x="901.2" y="1267.3" width="9" height="3.5" fill="#333"/>
<rect x="899.2" y="2123" width="4" height="13" fill="#000"/>
<rect x="901.2" y="2123" width="9" height="3.5" fill="#333"/>
<rect x="1083" y="1258.3" width="4" height="13" fill="#000"/>
<rect x="1085" y="1267.3" width="9" height="3.5" fill="#333"/>
<rect x="1083" y="2123" width="4" height="13" fill="#000"/>
<rect x="1085" y="2123" width="9" height="3.5" fill="#333"/>
<rect x="1262.2" y="1258.3" width="4" height="13" fill="#000"/>
<rect x="1264.2" y="1267.3" width="9" height="3.5" fill="#333"/>
<rect x="1262.2" y="2123" width="4" height="13" fill="#000"/>
<rect x="1264.2" y="2123" width="9" height="3.5" fill="#333"/>
<rect x="1445.4" y="1258.3" width="4" height="13" fill="#000"/>
<rect x="1447.4" y="1267.3" width="9" height="3.5" fill="#333"/>
<rect x="1445.4" y="2123" width="4" height="13" fill="#000"/>
<rect x="1447.4" y="2123" width="9" height="3.5" fill="#333"/>
<rect x="168" y="1267.3" width="6" height="3.5" fill="#333"/>
<rect x="168" y="2123" width="6" height="3.5" fill="#333"/>
<rect x="1635" y="1267.3" width="6" height="3.5" fill="#555"/>
<rect x="1635" y="2123" width="6" height="3.5" fill="#555"/>
</g>
<polygon points="176.78,1344.54 181.61,1308.44 186.69,1296.99 193.05,1304.62 200.68,1303.35 208.31,1305.89 218.47,1309.71 228.64,1302.08 238.81,1304.62 251.53,1302.08 261.69,1309.71 271.86,1316.06 282.03,1317.33 292.2,1321.15 302.37,1330.05 312.54,1340.22 322.71,1351.66 332.88,1358.01 343.05,1360.55 353.22,1360.55 363.39,1352.93 373.56,1355.47 383.73,1360.55 393.9,1371.99 404.07,1379.62 414.24,1389.79 424.41,1402.5 434.58,1413.94 442.2,1430.47 449.83,1453.35 457.46,1473.69 466.36,1487.67 473.98,1481.32 480.34,1455.89 487.97,1433.01 495.59,1412.67 503.22,1402.5 515.93,1396.15 528.64,1387.25 538.81,1377.08 551.53,1371.99 564.24,1378.35 570.17,1378.27 580.34,1383.35 590.51,1387.16 600.68,1385.89 612.12,1382.08 623.56,1384.62 633.73,1387.16 641.36,1394.79 648.98,1401.15 661.69,1402.42 674.41,1402.42 687.12,1404.96 699.83,1406.23 712.54,1407.5 725.25,1407.5 737.97,1407.5 750.68,1406.23 760.85,1402.42 768.47,1397.33 778.64,1401.15 788.81,1412.59 798.98,1415.13 809.15,1425.3 821.86,1426.57 832.03,1418.94 842.2,1417.67 852.37,1421.49 865.08,1426.57 875.25,1436.74 887.97,1434.2 898.14,1434.2 908.31,1439.28 921.02,1444.37 933.73,1444.37 943.9,1450.72 950.17,1455.55 960.34,1465.72 970.51,1473.35 980.68,1479.71 990.85,1480.98 998.47,1480.98 1006.1,1498.77 1016.27,1510.22 1023.9,1516.57 1031.53,1526.74 1041.69,1536.91 1051.86,1544.54 1059.49,1554.71 1067.12,1567.42 1074.75,1577.59 1081.1,1573.77 1087.46,1589.03 1097.63,1585.22 1105.25,1590.3 1112.88,1597.93 1123.05,1599.2 1133.22,1601.74 1143.39,1596.66 1151.02,1589.03 1158.64,1592.84 1168.81,1590.3 1168.81,1610.04 1158.64,1604.95 1151.02,1604.95 1143.39,1612.58 1133.22,1612.58 1123.05,1612.58 1112.88,1610.04 1105.25,1610.04 1097.63,1610.04 1087.46,1604.95 1081.1,1592.24 1074.75,1589.7 1067.12,1597.33 1059.49,1589.7 1051.86,1571.9 1041.69,1568.09 1031.53,1554.11 1023.9,1536.31 1016.27,1523.6 1006.1,1521.06 998.47,1527.41 990.85,1515.97 980.68,1514.7 970.51,1503.26 960.34,1488.01 950.17,1475.29 943.9,1467.92 933.73,1464.11 921.02,1456.48 908.31,1452.67 898.14,1446.31 887.97,1446.31 875.25,1446.31 865.08,1436.14 852.37,1432.33 842.2,1429.78 832.03,1431.06 821.86,1438.68 809.15,1434.87 798.98,1431.06 788.81,1427.24 778.64,1424.7 768.47,1422.16 760.85,1422.16 750.68,1418.34 737.97,1419.62 725.25,1425.97 712.54,1432.33 699.83,1423.43 687.12,1423.43 674.41,1423.43 661.69,1423.43 648.98,1422.16 641.36,1410.72 633.73,1404.36 623.56,1400.55 612.12,1399.28 600.68,1396.73 590.51,1395.46 580.34,1391.65 570.17,1387.84 564.24,1386.65 551.53,1382.84 538.81,1386.65 528.64,1395.55 515.93,1404.45 503.22,1412.07 495.59,1424.78 487.97,1447.67 480.34,1470.55 473.98,1493.43 466.36,1501.56 457.46,1488.34 449.83,1468.01 442.2,1445.12 434.58,1427.33 424.41,1414.62 414.24,1403.17 404.07,1389.19 393.9,1381.56 383.73,1373.94 373.56,1372.67 363.39,1376.48 353.22,1382.84 343.05,1380.29 332.88,1373.94 322.71,1362.5 312.54,1351.06 302.37,1345.97 292.2,1335.8 282.03,1339.62 271.86,1338.34 261.69,1328.17 251.53,1318.01 238.81,1319.28 228.64,1325.63 218.47,1329.45 208.31,1320.55 200.68,1329.45 193.05,1324.36 186.69,1328.17 181.61,1345.97 176.78,1352.33" fill="#0000ff" fill-opacity="0.42"/>
<polygon points="176.78,1346.03 181.61,1310.44 186.69,1298.99 193.05,1306.62 200.68,1305.35 208.31,1307.89 218.47,1311.71 228.64,1304.08 238.81,1306.62 251.53,1304.08 261.69,1311.71 271.86,1318.06 282.03,1319.33 292.2,1323.15 302.37,1332.05 312.54,1342.22 322.71,1353.66 332.88,1360.01 343.05,1362.55 353.22,1362.55 363.39,1354.93 373.56,1357.47 383.73,1362.55 393.9,1373.99 404.07,1381.62 414.24,1391.79 424.41,1404.5 434.58,1415.94 442.2,1432.47 449.83,1455.35 457.46,1475.69 466.36,1489.67 473.98,1483.32 480.34,1457.89 487.97,1435.01 495.59,1414.67 503.22,1404.5 515.93,1397.9 528.64,1389 538.81,1379.08 551.53,1373.99 564.24,1380.1 570.17,1380.27 580.34,1385.1 590.51,1388.91 600.68,1387.89 612.12,1384.08 623.56,1386.62 633.73,1389.16 641.36,1396.79 648.98,1403.15 661.69,1404.42 674.41,1404.42 687.12,1406.96 699.83,1408.23 712.54,1409.5 725.25,1409.5 737.97,1409.5 750.68,1408.23 760.85,1404.42 768.47,1399.33 778.64,1403.15 788.81,1414.59 798.98,1417.13 809.15,1427.3 821.86,1428.57 832.03,1420.94 842.2,1419.67 852.37,1423.49 865.08,1428.57 875.25,1438.74 887.97,1436.2 898.14,1436.2 908.31,1441.28 921.02,1446.37 933.73,1446.37 943.9,1452.72 950.17,1457.55 960.34,1467.72 970.51,1475.35 980.68,1481.71 990.85,1482.98 998.47,1482.98 1006.1,1500.77 1016.27,1512.22 1023.9,1518.57 1031.53,1528.74 1041.69,1538.91 1051.86,1546.54 1059.49,1556.71 1067.12,1569.42 1074.75,1579.59 1081.1,1575.77 1087.46,1591.03 1097.63,1587.22 1105.25,1592.3 1112.88,1599.93 1123.05,1601.2 1133.22,1603.74 1143.39,1598.66 1151.02,1591.03 1158.64,1594.84 1168.81,1592.3 1168.81,1608.04 1158.64,1602.95 1151.02,1602.95 1143.39,1610.58 1133.22,1610.58 1123.05,1610.58 1112.88,1608.04 1105.25,1608.04 1097.63,1608.04 1087.46,1602.95 1081.1,1590.24 1074.75,1587.7 1067.12,1595.33 1059.49,1587.7 1051.86,1569.9 1041.69,1566.09 1031.53,1552.11 1023.9,1534.31 1016.27,1521.6 1006.1,1519.06 998.47,1525.41 990.85,1513.97 980.68,1512.7 970.51,1501.26 960.34,1486.01 950.17,1473.29 943.9,1465.92 933.73,1462.11 921.02,1454.48 908.31,1450.67 898.14,1444.31 887.97,1444.31 875.25,1444.31 865.08,1434.14 852.37,1430.33 842.2,1427.78 832.03,1429.06 821.86,1436.68 809.15,1432.87 798.98,1429.06 788.81,1425.24 778.64,1422.7 768.47,1420.16 760.85,1420.16 750.68,1416.34 737.97,1417.62 725.25,1423.97 712.54,1430.33 699.83,1421.43 687.12,1421.43 674.41,1421.43 661.69,1421.43 648.98,1420.16 641.36,1408.72 633.73,1402.36 623.56,1398.55 612.12,1397.28 600.68,1394.73 590.51,1393.71 580.34,1389.9 570.17,1385.84 564.24,1384.9 551.53,1380.84 538.81,1384.65 528.64,1393.8 515.93,1402.7 503.22,1410.07 495.59,1422.78 487.97,1445.67 480.34,1468.55 473.98,1491.43 466.36,1499.56 457.46,1486.34 449.83,1466.01 442.2,1443.12 434.58,1425.33 424.41,1412.62 414.24,1401.17 404.07,1387.19 393.9,1379.56 383.73,1371.94 373.56,1370.67 363.39,1374.48 353.22,1380.84 343.05,1378.29 332.88,1371.94 322.71,1360.5 312.54,1349.06 302.37,1343.97 292.2,1333.8 282.03,1337.62 271.86,1336.34 261.69,1326.17 251.53,1316.01 238.81,1317.28 228.64,1323.63 218.47,1327.45 208.31,1318.55 200.68,1327.45 193.05,1322.36 186.69,1326.17 181.61,1343.97 176.78,1350.83" fill="#0000ff" stroke="#0000ff" stroke-width="0.8" stroke-linejoin="round"/>
<polygon points="1287.12,1706.4 1292.2,1705.13 1297.29,1711.49 1303.64,1721.66 1312.54,1721.66 1322.71,1707.67 1330.34,1724.2 1337.97,1706.4 1345.59,1698.77 1355.76,1698.77 1363.39,1703.86 1371.02,1706.4 1377.37,1687.33 1383.73,1701.32 1391.36,1716.57 1397.71,1724.2 1404.07,1744.54 1411.69,1739.45 1416.78,1762.33 1421.86,1790.3 1428.22,1785.22 1434.58,1790.3 1440.93,1790.3 1446.02,1764.88 1452.37,1757.25 1461.27,1747.08 1467.63,1759.79 1475.25,1767.42 1481.61,1752.16 1487.97,1772.5 1493.05,1785.22 1500.68,1805.55 1507.03,1808.1 1514.66,1808.1 1514.66,1820.21 1507.03,1825.29 1500.68,1830.38 1493.05,1815.12 1487.97,1792.24 1481.61,1784.62 1475.25,1779.53 1467.63,1779.53 1461.27,1764.28 1452.37,1784.62 1446.02,1799.87 1440.93,1832.92 1434.58,1807.5 1428.22,1807.5 1421.86,1815.12 1416.78,1802.41 1411.69,1769.36 1404.07,1766.82 1397.71,1761.73 1391.36,1736.31 1383.73,1728.68 1377.37,1728.68 1371.02,1731.23 1363.39,1738.85 1355.76,1718.51 1345.59,1726.14 1337.97,1741.39 1330.34,1746.48 1322.71,1736.31 1312.54,1741.39 1303.64,1751.56 1297.29,1736.31 1292.2,1715.97 1287.12,1726.14" fill="#0000ff" fill-opacity="0.42"/>
<polygon points="1287.12,1708.4 1292.2,1707.13 1297.29,1713.49 1303.64,1723.66 1312.54,1723.66 1322.71,1709.67 1330.34,1726.2 1337.97,1708.4 1345.59,1700.77 1355.76,1700.77 1363.39,1705.86 1371.02,1708.4 1377.37,1689.33 1383.73,1703.32 1391.36,1718.57 1397.71,1726.2 1404.07,1746.54 1411.69,1741.45 1416.78,1764.33 1421.86,1792.3 1428.22,1787.22 1434.58,1792.3 1440.93,1792.3 1446.02,1766.88 1452.37,1759.25 1461.27,1749.08 1467.63,1761.79 1475.25,1769.42 1481.61,1754.16 1487.97,1774.5 1493.05,1787.22 1500.68,1807.55 1507.03,1810.1 1514.66,1810.1 1514.66,1818.21 1507.03,1823.29 1500.68,1828.38 1493.05,1813.12 1487.97,1790.24 1481.61,1782.62 1475.25,1777.53 1467.63,1777.53 1461.27,1762.28 1452.37,1782.62 1446.02,1797.87 1440.93,1830.92 1434.58,1805.5 1428.22,1805.5 1421.86,1813.12 1416.78,1800.41 1411.69,1767.36 1404.07,1764.82 1397.71,1759.73 1391.36,1734.31 1383.73,1726.68 1377.37,1726.68 1371.02,1729.23 1363.39,1736.85 1355.76,1716.51 1345.59,1724.14 1337.97,1739.39 1330.34,1744.48 1322.71,1734.31 1312.54,1739.39 1303.64,1749.56 1297.29,1734.31 1292.2,1713.97 1287.12,1724.14" fill="#0000ff" stroke="#0000ff" stroke-width="0.8" stroke-linejoin="round"/>
<polyline points="1170.08,1602.71 1176.44,1620.51 1184.07,1640.85 1185.42,1640 1190.51,1660.34 1196.86,1685.76 1201.95,1711.19 1207.03,1741.69 1210.85,1762.03 1214.66,1787.46 1217.2,1812.88 1222.29,1828.14 1224.83,1856.1 1226.1,1894.24 1224.83,1900 1227.37,1925.42 1229.92,1950.85 1232.46,1976.27 1233.73,2001.69 1234.49,2042.37 1235,2089.41 1237.03,2052.54 1238.81,2019.49 1243.9,2022.03 1245.17,2065.25 1247.71,2098.31 1250.25,2119.92 1252.8,2098.31 1255.34,2065.25 1254.58,2027.12 1254.07,2001.69 1256.1,1976.27 1257.88,1950.85 1260.93,1925.42 1262.97,1914.58 1266.78,1884.07 1269.32,1856.1 1271.86,1830.68 1274.41,1797.63 1279.49,1782.37 1284.58,1751.86 1288.39,1723.9 1290.93,1709.92" fill="none" stroke="#0000ff" stroke-width="8.2" stroke-linejoin="round" stroke-linecap="round" stroke-opacity="0.35"/>
<polyline points="1170.08,1602.71 1176.44,1620.51 1184.07,1640.85 1185.42,1640 1190.51,1660.34 1196.86,1685.76 1201.95,1711.19 1207.03,1741.69 1210.85,1762.03 1214.66,1787.46 1217.2,1812.88 1222.29,1828.14 1224.83,1856.1 1226.1,1894.24 1224.83,1900 1227.37,1925.42 1229.92,1950.85 1232.46,1976.27 1233.73,2001.69 1234.49,2042.37 1235,2089.41 1237.03,2052.54 1238.81,2019.49 1243.9,2022.03 1245.17,2065.25 1247.71,2098.31 1250.25,2119.92 1252.8,2098.31 1255.34,2065.25 1254.58,2027.12 1254.07,2001.69 1256.1,1976.27 1257.88,1950.85 1260.93,1925.42 1262.97,1914.58 1266.78,1884.07 1269.32,1856.1 1271.86,1830.68 1274.41,1797.63 1279.49,1782.37 1284.58,1751.86 1288.39,1723.9 1290.93,1709.92" fill="none" stroke="#0000ff" stroke-width="5.6" stroke-linejoin="round" stroke-linecap="round"/>
<polygon points="1232.46,2016.95 1246.44,2019.49 1246.44,2065.25 1240.08,2065.25 1237.54,2090.68 1232.46,2090.68" fill="#0000ff" stroke="#0000ff" stroke-width="1.5" stroke-linejoin="round"/>
<polyline points="1234.24,2009.32 1235,2052.54 1235.51,2088.64" fill="none" stroke="#0000ff" stroke-width="8.5" stroke-linejoin="round" stroke-linecap="round"/>
<polyline points="1246.44,2062.71 1248.98,2098.31 1250.76,2118.14 1253.05,2098.31 1255.85,2062.71" fill="none" stroke="#0000ff" stroke-width="8.5" stroke-linejoin="round" stroke-linecap="round"/>
<line x1="468.4" y1="1621" x2="468.4" y2="1541.5" stroke="#7030a0" stroke-width="9"/>
<polygon points="468.4,1513.5 484.9,1543.5 451.9,1543.5" fill="#7030a0"/>
<line x1="1112.1" y1="1709.5" x2="1112.1" y2="1630.5" stroke="#7030a0" stroke-width="9"/>
<polygon points="1112.1,1602.5 1128.6,1632.5 1095.6,1632.5" fill="#7030a0"/>
<line x1="1424.4" y1="1615.6" x2="1424.4" y2="1711.5" stroke="#ff0000" stroke-width="9"/>
<polygon points="1424.4,1739.5 1407.9,1709.5 1440.9,1709.5" fill="#ff0000"/>
<line x1="1326.5" y1="2103.4" x2="1278.27" y2="2069.8" stroke="#7030a0" stroke-width="9"/>
<polygon points="1255.3,2053.8 1289.35,2057.41 1270.48,2084.49" fill="#7030a0"/>
<rect x="168" y="1258.3" width="1467" height="877.7" fill="none" stroke="#000" stroke-width="3.7"/>
<text transform="translate(139.58 2219.8) scale(1.0253 1)" font-size="50" font-weight="normal" font-style="normal" fill="#2b2b2b" stroke="#fff" stroke-width="0.7">0.2</text>
<text transform="translate(330.66 2219.8) scale(0.9811 1)" font-size="50" font-weight="normal" font-style="normal" fill="#2b2b2b" stroke="#fff" stroke-width="0.7">0.4</text>
<text transform="translate(506.49 2219.8) scale(1.0198 1)" font-size="50" font-weight="normal" font-style="normal" fill="#2b2b2b" stroke="#fff" stroke-width="0.7">0.6</text>
<text transform="translate(696.86 2219.8) scale(0.9798 1)" font-size="50" font-weight="normal" font-style="normal" fill="#2b2b2b" stroke="#fff" stroke-width="0.7">0.8</text>
<text transform="translate(886.15 2219.8) scale(1.0254 1)" font-size="50" font-weight="normal" font-style="normal" fill="#2b2b2b" stroke="#fff" stroke-width="0.7">1.0</text>
<text transform="translate(1063.25 2219.8) scale(1.0004 1)" font-size="50" font-weight="normal" font-style="normal" fill="#2b2b2b" stroke="#fff" stroke-width="0.7">1.2</text>
<text transform="translate(1241.39 2219.8) scale(0.9631 1)" font-size="50" font-weight="normal" font-style="normal" fill="#2b2b2b" stroke="#fff" stroke-width="0.7">1.4</text>
<text transform="translate(1427.61 2219.8) scale(1.0106 1)" font-size="50" font-weight="normal" font-style="normal" fill="#2b2b2b" stroke="#fff" stroke-width="0.7">1.6</text>
<text transform="translate(1606.81 2219.8) scale(0.9851 1)" font-size="50" font-weight="normal" font-style="normal" fill="#2b2b2b" stroke="#fff" stroke-width="0.7">1.8</text>
<text transform="translate(129.5 1257.07) rotate(-90) scale(0.9458 1)" font-size="50" font-weight="normal" font-style="normal" fill="#2b2b2b" stroke="#fff" stroke-width="0.7">0</text>
<text transform="translate(129.5 1569.69) rotate(-90) scale(0.9354 1)" font-size="50" font-weight="normal" font-style="normal" fill="#2b2b2b" stroke="#fff" stroke-width="0.7">-1</text>
<text transform="translate(129.5 1855.65) rotate(-90) scale(0.9655 1)" font-size="50" font-weight="normal" font-style="normal" fill="#2b2b2b" stroke="#fff" stroke-width="0.7">-2</text>
<text transform="translate(129.5 2144.02) rotate(-90) scale(0.9520 1)" font-size="50" font-weight="normal" font-style="normal" fill="#2b2b2b" stroke="#fff" stroke-width="0.7">-3</text>
<text transform="translate(374.44 1708.3) scale(0.9837 1)" font-size="55.5" font-weight="normal" font-style="normal" fill="#000" stroke="#000" stroke-width="1.8" stroke-linejoin="round">0.530 THz</text>
<text transform="translate(929.1 1769.3) scale(0.9819 1)" font-size="55.5" font-weight="normal" font-style="normal" fill="#000" stroke="#000" stroke-width="1.8" stroke-linejoin="round">1.205 THz</text>
<text transform="translate(1302.2 1595) scale(0.9815 1)" font-size="55.5" font-weight="normal" font-style="normal" fill="#ff0000" stroke="#ff0000" stroke-width="1.8" stroke-linejoin="round">1.565 THz</text>
<text transform="translate(1327.78 2125.2) scale(0.9879 1)" font-size="55.5" font-weight="normal" font-style="normal" fill="#000" stroke="#000" stroke-width="1.8" stroke-linejoin="round">1.370 THz</text>
<text transform="translate(640.43 2290) scale(1.0200 1)" font-size="55" font-weight="normal" font-style="normal" fill="#000" stroke="#000" stroke-width="1.8" stroke-linejoin="round">Frequency [THz]</text>
<text transform="translate(64.2 1887.22) rotate(-90) scale(1.0177 1)" font-size="56" font-weight="normal" font-style="normal" fill="#000" stroke="#000" stroke-width="1.8" stroke-linejoin="round">Transmission</text>
<text transform="translate(64.2 1539.1) rotate(-90) scale(1.0587 1)" font-size="56" font-weight="normal" font-style="normal" fill="#000" stroke="#000" stroke-width="1.8" stroke-linejoin="round">(log</text>
<text transform="translate(79.2 1441.65) rotate(-90) scale(1.0240 1)" font-size="36" font-weight="normal" font-style="normal" fill="#000" stroke="#000" stroke-width="1.2" stroke-linejoin="round">10</text>
<text transform="translate(64.2 1396.01) rotate(-90) scale(0.7926 1)" font-size="56" font-weight="normal" font-style="normal" fill="#000" stroke="#000" stroke-width="1.8" stroke-linejoin="round">)</text>
</g>
</g>
</svg></body></html>
